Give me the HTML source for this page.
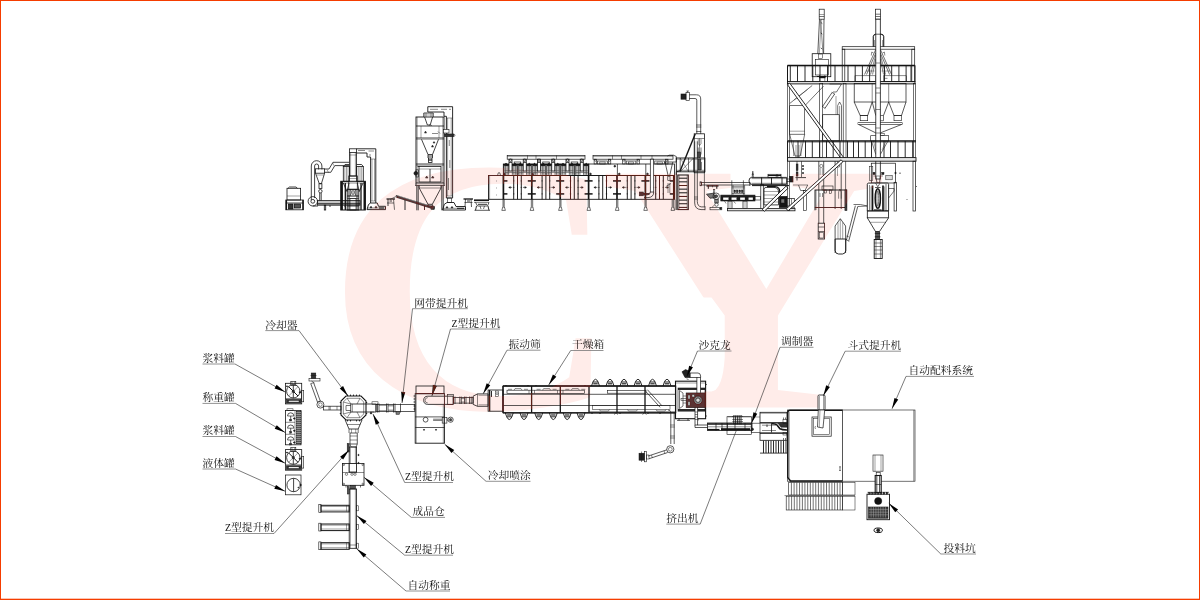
<!DOCTYPE html>
<html lang="zh"><head><meta charset="utf-8"><title>Production line layout</title>
<style>
html,body{margin:0;padding:0;background:#fff;}
body{width:1200px;height:600px;overflow:hidden;position:relative;font-family:"Liberation Serif","Noto Serif CJK SC",serif;}
#frame{position:absolute;left:0;top:0;width:1198px;height:598px;border:1px solid #f53d00;}
svg{position:absolute;left:0;top:0;}
.wm{font-family:"Liberation Serif",serif;font-weight:bold;font-size:357px;}
.lbl text{font-family:"Liberation Serif","Noto Serif CJK SC",serif;font-size:10.75px;fill:#111;font-weight:400;}
</style></head><body>
<svg width="1200" height="600" viewBox="0 0 1200 600">
<defs><clipPath id="ycp"><path d="M0,-300 H116.8 V-210 H140 V-300 H300 V10 H77.7 V-16 H100 Q110,-18 111.7,-50 V-92 L100,-110 H0 Z"/></clipPath></defs>
<g class="wm" fill="#ffece9"><text transform="translate(323.1,409.6) scale(1.17,1.03)" x="0" y="0" stroke="#ffffff" stroke-width="2.5">C</text><text clip-path="url(#ycp)" transform="translate(598.5,407.5) scale(1.13,1)" x="0" y="0">Y</text></g>
<g fill="none" stroke="#141414" stroke-width="0.8" stroke-linecap="butt" stroke-linejoin="miter">
<rect x="287" y="188.3" width="13.6" height="11.7"/>
<polyline points="288,188.3 289.5,187 296,187 297.5,188.3"/>
<rect x="285.8" y="200" width="17.7" height="9.8"/>
<line x1="285.8" y1="203" x2="303.5" y2="203"/>
<rect x="288.5" y="204" width="4.5" height="5" fill="#333"/>
<rect x="294.5" y="204" width="6" height="4" fill="#555"/>
<line x1="286.5" y1="200" x2="286.5" y2="210" stroke-width="1.2"/>
<line x1="302.8" y1="200" x2="302.8" y2="210" stroke-width="1.2"/>
<line x1="287" y1="196" x2="300.6" y2="196" stroke-width="0.4"/>
<line x1="311.3" y1="166" x2="311.3" y2="200"/>
<line x1="314.6" y1="166" x2="314.6" y2="198"/>
<path d="M311.3,166 A5.3,5.3 0 0 1 321.9,166"/>
<path d="M314.6,166 A2,2 0 0 1 318.6,166"/>
<line x1="318.6" y1="166" x2="318.6" y2="169.4"/>
<line x1="321.9" y1="166" x2="321.9" y2="169.4"/>
<circle cx="312.8" cy="201.3" r="4.7"/>
<circle cx="312.8" cy="201.3" r="1.9"/>
<line x1="312.8" y1="206" x2="318" y2="206"/>
<rect x="315.5" y="168.8" width="9.1" height="4.4"/>
<polyline points="315.5,173.2 319.3,183.7 321.4,183.7 324.6,173.2"/>
<line x1="316.3" y1="175" x2="323.8" y2="175" stroke-width="0.4"/>
<rect x="319" y="183.7" width="2.9" height="4.8"/>
<circle cx="320.4" cy="191.2" r="1.7"/>
<line x1="319.7" y1="193" x2="319.7" y2="200.5"/>
<line x1="321.2" y1="193" x2="321.2" y2="200.5"/>
<polyline points="324.6,169 329,169 333,162.3 349.3,162.3"/>
<polyline points="324.6,172.3 330.8,172.3 334.8,165.6 349.3,165.6"/>
<line x1="327" y1="169.6" x2="328.5" y2="172.6" stroke-width="0.4"/>
<line x1="332.5" y1="162.6" x2="334" y2="165.8" stroke-width="0.4"/>
<rect x="317.5" y="200.6" width="42.5" height="4.6"/>
<line x1="317.5" y1="202" x2="360" y2="202" stroke-width="0.5"/>
<line x1="317.5" y1="203.8" x2="360" y2="203.8" stroke-width="1.2"/>
<rect x="324.3" y="205.2" width="1.4" height="4.8"/>
<line x1="330" y1="205.2" x2="330" y2="207"/>
<line x1="345" y1="205.2" x2="345" y2="207"/>
<rect x="349.4" y="148.8" width="7.2" height="27.2"/>
<line x1="349.4" y1="152.5" x2="356.6" y2="152.5"/>
<line x1="350.6" y1="152.5" x2="350.6" y2="176" stroke-width="0.4"/>
<line x1="355.4" y1="152.5" x2="355.4" y2="176" stroke-width="0.4"/>
<line x1="349.4" y1="155" x2="356.6" y2="155" stroke-width="0.4"/>
<rect x="348.8" y="176" width="8.5" height="13.3"/>
<line x1="348.8" y1="178.5" x2="357.3" y2="178.5" stroke-width="0.4"/>
<rect x="343.3" y="166.5" width="6.1" height="14.8"/>
<rect x="356.6" y="166.5" width="6.7" height="14.8"/>
<polyline points="343.3,166.5 345,164.5 349.4,164.5"/>
<polyline points="363.3,166.5 361.6,164.5 356.6,164.5"/>
<line x1="344.8" y1="166.5" x2="344.8" y2="181.3" stroke-width="0.4"/>
<line x1="346.5" y1="166.5" x2="346.5" y2="181.3" stroke-width="0.4"/>
<line x1="348" y1="166.5" x2="348" y2="181.3" stroke-width="0.4"/>
<line x1="358.2" y1="166.5" x2="358.2" y2="181.3" stroke-width="0.4"/>
<line x1="360" y1="166.5" x2="360" y2="181.3" stroke-width="0.4"/>
<line x1="361.7" y1="166.5" x2="361.7" y2="181.3" stroke-width="0.4"/>
<rect x="340.8" y="181.3" width="24.5" height="28.7" stroke-width="1"/>
<line x1="341.8" y1="181.3" x2="341.8" y2="210" stroke-width="2.2"/>
<line x1="345.3" y1="183" x2="345.3" y2="210" stroke-width="1.3"/>
<line x1="361" y1="183" x2="361" y2="210" stroke-width="1.3"/>
<line x1="364.6" y1="181.3" x2="364.6" y2="210" stroke-width="2.2"/>
<line x1="340.8" y1="183" x2="365.3" y2="183" stroke-width="0.5"/>
<polyline points="343.3,183 347,191.5 349,183"/>
<polyline points="357.3,183 359.3,191.5 363,183"/>
<rect x="347.2" y="189.3" width="11.6" height="20.7" stroke-width="0.9"/>
<line x1="349" y1="189.3" x2="349" y2="210" stroke-width="0.9"/>
<line x1="357" y1="189.3" x2="357" y2="210" stroke-width="0.9"/>
<line x1="350.5" y1="189.3" x2="350.5" y2="196" stroke-width="0.5"/>
<line x1="355.5" y1="189.3" x2="355.5" y2="196" stroke-width="0.5"/>
<polyline points="350.5,189.5 353,195 355.5,189.5" stroke-width="0.5"/>
<polyline points="350.5,195 353,190 355.5,195" stroke-width="0.5"/>
<line x1="347.2" y1="196" x2="358.8" y2="196" stroke-width="1"/>
<line x1="347.2" y1="198.5" x2="358.8" y2="198.5" stroke-width="0.6"/>
<line x1="347.2" y1="206" x2="358.8" y2="206" stroke-width="0.8"/>
<rect x="350" y="198.5" width="6" height="11.5" stroke-width="0.6"/>
<polyline points="356.6,148.8 375.8,148.8 375.8,203 370.6,203 370.6,157 367,157 367,153 356.6,153" stroke-width="0.9"/>
<line x1="372" y1="159" x2="372" y2="201" stroke-width="0.4"/>
<line x1="374.5" y1="159" x2="374.5" y2="201" stroke-width="0.4"/>
<line x1="370.6" y1="159" x2="375.8" y2="159" stroke-width="0.4"/>
<line x1="370.6" y1="201" x2="375.8" y2="201" stroke-width="0.4"/>
<line x1="358" y1="150.5" x2="365" y2="150.5" stroke-width="0.5"/>
<line x1="368.5" y1="151" x2="374" y2="151" stroke-width="0.5"/>
<line x1="369" y1="155" x2="371" y2="155" stroke-width="0.5"/>
<polyline points="370.6,203 368.5,204.5 367,209.6 385.5,209.6 385.5,206.3 378.5,206.3 377.3,203 375.8,203" stroke-width="0.9"/>
<line x1="367" y1="208" x2="385.5" y2="208" stroke-width="0.5"/>
<circle cx="371" cy="207.3" r="0.7" fill="#222"/>
<circle cx="376" cy="207.3" r="0.7" fill="#222"/>
<line x1="379" y1="208" x2="384" y2="208" stroke-width="1"/>
<line x1="386.5" y1="199" x2="395" y2="199" stroke-width="1.2"/>
<line x1="388" y1="199" x2="388" y2="206" stroke-width="0.8"/>
<line x1="393.5" y1="199" x2="394.5" y2="209.8" stroke-width="0.6"/>
<line x1="387" y1="203" x2="394" y2="203" stroke-width="0.6"/>
<line x1="389.5" y1="201" x2="392" y2="201" stroke-width="0.8"/>
<line x1="390" y1="199.5" x2="396" y2="196.5" stroke-width="0.6"/>
<line x1="396.8" y1="196.4" x2="434.2" y2="208.3" stroke-width="2.6" stroke="#333"/>
<line x1="397.5" y1="195.6" x2="434.5" y2="207.4" stroke-width="0.5" stroke="#bbb"/>
<line x1="396.2" y1="195" x2="397.4" y2="198"/>
<line x1="405" y1="199.5" x2="405" y2="210" stroke-width="0.9"/>
<line x1="424.5" y1="205.5" x2="424.5" y2="210" stroke-width="0.9"/>
<rect x="431" y="206.5" width="3.5" height="2.8" stroke-width="0.5" fill="#333"/>
<rect x="416" y="117" width="28" height="66" stroke-width="0.9"/>
<line x1="416" y1="126" x2="444" y2="126" stroke-width="0.8"/>
<line x1="416" y1="138" x2="444" y2="138" stroke-width="0.8"/>
<line x1="416" y1="164" x2="444" y2="164" stroke-width="0.8"/>
<line x1="417.2" y1="117" x2="417.2" y2="183" stroke-width="0.4"/>
<line x1="442.8" y1="117" x2="442.8" y2="183" stroke-width="0.4"/>
<line x1="416" y1="139.3" x2="444" y2="139.3" stroke-width="0.4"/>
<line x1="416" y1="165.3" x2="444" y2="165.3" stroke-width="0.4"/>
<polyline points="423.8,117 423.8,113 433.2,113 433.2,117"/>
<polyline points="424.6,117 427.4,125 430.2,125 432.6,117"/>
<line x1="426" y1="113" x2="426" y2="117" stroke-width="0.4"/>
<line x1="431" y1="113" x2="431" y2="117" stroke-width="0.4"/>
<line x1="424" y1="115" x2="433" y2="115" stroke-width="0.4"/>
<line x1="429" y1="125" x2="432" y2="125.5" stroke-width="0.5"/>
<line x1="421" y1="126" x2="421" y2="138" stroke-width="0.4"/>
<line x1="439" y1="126" x2="439" y2="138" stroke-width="0.4"/>
<polygon points="424.5,133 425.5,131 426.5,133" stroke-width="0.5" fill="#333"/>
<line x1="432" y1="133.5" x2="438" y2="133.5" stroke-width="0.5"/>
<line x1="438" y1="131.5" x2="440" y2="133.5" stroke-width="0.5"/>
<polyline points="421.5,139.3 428,154.5 432.5,154.5 438.5,139.3"/>
<line x1="428" y1="154.5" x2="428" y2="158"/>
<line x1="432.5" y1="154.5" x2="432.5" y2="158"/>
<line x1="428" y1="156" x2="432.5" y2="156"/>
<rect x="428.5" y="158" width="3.5" height="4.5"/>
<line x1="428.5" y1="160" x2="432" y2="160" stroke-width="1.2"/>
<polygon points="431.5,147 432.5,145 433.5,147" stroke-width="0.5" fill="#333"/>
<polygon points="433,143 434,141.5 435,143" stroke-width="0.5" fill="#333"/>
<rect x="419" y="166.5" width="22" height="15.5"/>
<line x1="419" y1="169" x2="441" y2="169" stroke-width="0.4"/>
<line x1="430" y1="169" x2="430" y2="182"/>
<line x1="417.5" y1="166.5" x2="419" y2="166.5"/>
<polygon points="425.5,178 426.7,176 428,178" stroke-width="0.5" fill="#333"/>
<polygon points="431.5,178 432.7,176 434,178" stroke-width="0.5" fill="#333"/>
<circle cx="415.8" cy="173.3" r="1.8" fill="#222"/>
<rect x="416" y="169.8" width="2.3" height="7.2" stroke-width="0.6"/>
<line x1="416" y1="183" x2="416" y2="185.3"/>
<line x1="444" y1="183" x2="444" y2="185.3"/>
<line x1="415" y1="185.3" x2="445" y2="185.3"/>
<line x1="416.8" y1="185.3" x2="416.8" y2="210.3"/>
<line x1="418.2" y1="185.3" x2="418.2" y2="210.3"/>
<line x1="441.8" y1="185.3" x2="441.8" y2="210.3"/>
<line x1="443.2" y1="185.3" x2="443.2" y2="210.3"/>
<polyline points="419.2,185.3 419.2,188 428,204.3 432.3,204.3 441,188 441,185.3"/>
<line x1="419.2" y1="188" x2="441" y2="188" stroke-width="0.5"/>
<line x1="428" y1="204.3" x2="428" y2="206"/>
<line x1="432.3" y1="204.3" x2="432.3" y2="206"/>
<line x1="427" y1="206" x2="433.5" y2="206"/>
<polygon points="427.8,106.7 452.6,106.7 452.6,198 446.4,198 446.4,116.3 444,116.3 444,112 427.8,112" stroke-width="0.9"/>
<line x1="447.6" y1="118" x2="447.6" y2="196" stroke-width="0.4"/>
<line x1="451.2" y1="118" x2="451.2" y2="196" stroke-width="0.4"/>
<line x1="446.4" y1="118" x2="452.6" y2="118" stroke-width="0.4"/>
<line x1="446.4" y1="196" x2="452.6" y2="196" stroke-width="0.4"/>
<line x1="430" y1="109.3" x2="438" y2="109.3" stroke-width="0.5"/>
<line x1="441" y1="109.3" x2="447" y2="109.3" stroke-width="0.5"/>
<line x1="449" y1="109.3" x2="451" y2="109.3" stroke-width="0.5"/>
<rect x="443.5" y="129.5" width="5.5" height="3.5" stroke-width="0.6" fill="#fff"/>
<rect x="444.5" y="134" width="9" height="2.6" stroke-width="0.6" fill="#333"/>
<circle cx="453.8" cy="135.3" r="1.1" stroke-width="0.6"/>
<line x1="449.3" y1="140" x2="449.3" y2="146" stroke-width="0.5"/>
<line x1="449.8" y1="160" x2="449.8" y2="168" stroke-width="0.5"/>
<line x1="448.5" y1="178" x2="448.5" y2="190" stroke-width="0.5"/>
<rect x="447.3" y="198" width="4.2" height="4.5" stroke-width="0.6"/>
<polygon points="447,202.5 444.3,204.3 442.6,210 465.5,210 465.5,206.5 456,206.5 454,202.5" stroke-width="0.9"/>
<line x1="442.6" y1="208.3" x2="465.5" y2="208.3" stroke-width="0.5"/>
<circle cx="447" cy="207.4" r="0.7" fill="#222"/>
<circle cx="452" cy="207.4" r="0.7" fill="#222"/>
<line x1="457" y1="208.3" x2="464" y2="208.3" stroke-width="1"/>
<line x1="463.5" y1="199" x2="473" y2="199" stroke-width="1.3"/>
<line x1="465.5" y1="199" x2="465" y2="206.5" stroke-width="0.7"/>
<line x1="471" y1="199" x2="471.5" y2="207" stroke-width="0.7"/>
<line x1="464.5" y1="202.5" x2="472.5" y2="202.5" stroke-width="0.6"/>
<line x1="467" y1="201" x2="470" y2="201" stroke-width="0.9"/>
<line x1="474" y1="200.2" x2="489" y2="200.2" stroke-width="1.6"/>
<line x1="474" y1="202.3" x2="489" y2="202.3" stroke-width="0.6"/>
<polyline points="475.5,202.3 477.5,206 487.5,206 489,202.3" stroke-width="0.7"/>
<line x1="478" y1="204.3" x2="487" y2="204.3" stroke-width="0.9"/>
<line x1="476.5" y1="206" x2="475.5" y2="210.3" stroke-width="0.9"/>
<line x1="488" y1="206" x2="489" y2="210.3" stroke-width="0.9"/>
<line x1="480" y1="206" x2="481" y2="209" stroke-width="0.6"/>
<line x1="484.5" y1="206" x2="483.5" y2="209" stroke-width="0.6"/>
<line x1="474.5" y1="210.3" x2="490" y2="210.3" stroke-width="0.7"/>
<rect x="488.5" y="175.5" width="186" height="23.8" stroke-width="0.9"/>
<line x1="489.6" y1="175.5" x2="489.6" y2="199.3" stroke-width="0.4"/>
<line x1="496.5" y1="180.6" x2="496.5" y2="181.4" stroke-width="0.5"/>
<line x1="496.5" y1="187.6" x2="496.5" y2="188.4" stroke-width="0.5"/>
<line x1="496.5" y1="194.6" x2="496.5" y2="195.4" stroke-width="0.5"/>
<polyline points="497.5,175.5 498.3,172.8 499.8,172.8 500.6,175.5" stroke-width="0.6"/>
<line x1="503.4" y1="175.5" x2="503.4" y2="199.3" stroke-width="1.7"/>
<line x1="502.9" y1="199.3" x2="502.9" y2="207.5" stroke-width="0.5"/>
<line x1="504.3" y1="199.3" x2="504.3" y2="207.5" stroke-width="0.5"/>
<line x1="503.6" y1="199.3" x2="503.6" y2="207.5" stroke-width="0.4"/>
<polyline points="502.8,207 501.8,210.4 505.4,210.4 504.4,207" stroke-width="0.6"/>
<line x1="503.4" y1="180.9" x2="507.4" y2="180.9" stroke-width="1.5"/>
<line x1="503.4" y1="193.9" x2="507.4" y2="193.9" stroke-width="1.5"/>
<line x1="531.8" y1="175.5" x2="531.8" y2="199.3" stroke-width="1.7"/>
<line x1="531.3" y1="199.3" x2="531.3" y2="207.5" stroke-width="0.5"/>
<line x1="532.7" y1="199.3" x2="532.7" y2="207.5" stroke-width="0.5"/>
<line x1="532" y1="199.3" x2="532" y2="207.5" stroke-width="0.4"/>
<polyline points="531.2,207 530.2,210.4 533.8,210.4 532.8,207" stroke-width="0.6"/>
<line x1="527.8" y1="180.9" x2="535.8" y2="180.9" stroke-width="1.5"/>
<line x1="527.8" y1="193.9" x2="535.8" y2="193.9" stroke-width="1.5"/>
<line x1="560.2" y1="175.5" x2="560.2" y2="199.3" stroke-width="1.7"/>
<line x1="559.7" y1="199.3" x2="559.7" y2="207.5" stroke-width="0.5"/>
<line x1="561.1" y1="199.3" x2="561.1" y2="207.5" stroke-width="0.5"/>
<line x1="560.4" y1="199.3" x2="560.4" y2="207.5" stroke-width="0.4"/>
<polyline points="559.6,207 558.6,210.4 562.2,210.4 561.2,207" stroke-width="0.6"/>
<line x1="556.2" y1="180.9" x2="564.2" y2="180.9" stroke-width="1.5"/>
<line x1="556.2" y1="193.9" x2="564.2" y2="193.9" stroke-width="1.5"/>
<line x1="588.6" y1="175.5" x2="588.6" y2="199.3" stroke-width="1.7"/>
<line x1="588.1" y1="199.3" x2="588.1" y2="207.5" stroke-width="0.5"/>
<line x1="589.5" y1="199.3" x2="589.5" y2="207.5" stroke-width="0.5"/>
<line x1="588.8" y1="199.3" x2="588.8" y2="207.5" stroke-width="0.4"/>
<polyline points="588,207 587,210.4 590.6,210.4 589.6,207" stroke-width="0.6"/>
<line x1="584.6" y1="180.9" x2="592.6" y2="180.9" stroke-width="1.5"/>
<line x1="584.6" y1="193.9" x2="592.6" y2="193.9" stroke-width="1.5"/>
<line x1="617" y1="175.5" x2="617" y2="199.3" stroke-width="1.7"/>
<line x1="616.5" y1="199.3" x2="616.5" y2="207.5" stroke-width="0.5"/>
<line x1="617.9" y1="199.3" x2="617.9" y2="207.5" stroke-width="0.5"/>
<line x1="617.2" y1="199.3" x2="617.2" y2="207.5" stroke-width="0.4"/>
<polyline points="616.4,207 615.4,210.4 619,210.4 618,207" stroke-width="0.6"/>
<line x1="613" y1="180.9" x2="621" y2="180.9" stroke-width="1.5"/>
<line x1="613" y1="193.9" x2="621" y2="193.9" stroke-width="1.5"/>
<line x1="645.4" y1="175.5" x2="645.4" y2="199.3" stroke-width="1.7"/>
<line x1="644.9" y1="199.3" x2="644.9" y2="207.5" stroke-width="0.5"/>
<line x1="646.3" y1="199.3" x2="646.3" y2="207.5" stroke-width="0.5"/>
<line x1="645.6" y1="199.3" x2="645.6" y2="207.5" stroke-width="0.4"/>
<polyline points="644.8,207 643.8,210.4 647.4,210.4 646.4,207" stroke-width="0.6"/>
<line x1="641.4" y1="180.9" x2="649.4" y2="180.9" stroke-width="1.5"/>
<line x1="641.4" y1="193.9" x2="649.4" y2="193.9" stroke-width="1.5"/>
<line x1="673.8" y1="175.5" x2="673.8" y2="199.3" stroke-width="1.7"/>
<line x1="672.1" y1="199.3" x2="672.1" y2="207.5" stroke-width="0.5"/>
<line x1="673.5" y1="199.3" x2="673.5" y2="207.5" stroke-width="0.5"/>
<line x1="672.8" y1="199.3" x2="672.8" y2="207.5" stroke-width="0.4"/>
<polyline points="672,207 671,210.4 674.6,210.4 673.6,207" stroke-width="0.6"/>
<line x1="669.8" y1="180.9" x2="673.8" y2="180.9" stroke-width="1.5"/>
<line x1="669.8" y1="193.9" x2="673.8" y2="193.9" stroke-width="1.5"/>
<line x1="513.7" y1="175.5" x2="513.7" y2="199.3" stroke-width="0.95"/>
<line x1="517.5" y1="175.5" x2="517.5" y2="199.3" stroke-width="0.95"/>
<line x1="521.3" y1="175.5" x2="521.3" y2="199.3" stroke-width="0.95"/>
<line x1="513" y1="180.9" x2="514.4" y2="180.9" stroke-width="0.6"/>
<line x1="513" y1="187.4" x2="514.4" y2="187.4" stroke-width="0.6"/>
<line x1="513" y1="193.9" x2="514.4" y2="193.9" stroke-width="0.6"/>
<line x1="520.6" y1="180.9" x2="522" y2="180.9" stroke-width="0.6"/>
<line x1="520.6" y1="187.4" x2="522" y2="187.4" stroke-width="0.6"/>
<line x1="520.6" y1="193.9" x2="522" y2="193.9" stroke-width="0.6"/>
<line x1="508.9" y1="187.4" x2="512.2" y2="187.4" stroke-width="0.6"/>
<polygon points="508.6,187.4 510.4,186.4 510.4,188.4" stroke-width="0.3" fill="#222"/>
<line x1="522.9" y1="187.4" x2="526.2" y2="187.4" stroke-width="0.6"/>
<polygon points="526.6,187.4 524.8,186.4 524.8,188.4" stroke-width="0.3" fill="#222"/>
<line x1="542.1" y1="175.5" x2="542.1" y2="199.3" stroke-width="0.95"/>
<line x1="545.9" y1="175.5" x2="545.9" y2="199.3" stroke-width="0.95"/>
<line x1="549.7" y1="175.5" x2="549.7" y2="199.3" stroke-width="0.95"/>
<line x1="541.4" y1="180.9" x2="542.8" y2="180.9" stroke-width="0.6"/>
<line x1="541.4" y1="187.4" x2="542.8" y2="187.4" stroke-width="0.6"/>
<line x1="541.4" y1="193.9" x2="542.8" y2="193.9" stroke-width="0.6"/>
<line x1="549" y1="180.9" x2="550.4" y2="180.9" stroke-width="0.6"/>
<line x1="549" y1="187.4" x2="550.4" y2="187.4" stroke-width="0.6"/>
<line x1="549" y1="193.9" x2="550.4" y2="193.9" stroke-width="0.6"/>
<line x1="537.3" y1="187.4" x2="540.6" y2="187.4" stroke-width="0.6"/>
<polygon points="537,187.4 538.8,186.4 538.8,188.4" stroke-width="0.3" fill="#222"/>
<line x1="551.3" y1="187.4" x2="554.6" y2="187.4" stroke-width="0.6"/>
<polygon points="555,187.4 553.2,186.4 553.2,188.4" stroke-width="0.3" fill="#222"/>
<line x1="570.5" y1="175.5" x2="570.5" y2="199.3" stroke-width="0.95"/>
<line x1="574.3" y1="175.5" x2="574.3" y2="199.3" stroke-width="0.95"/>
<line x1="578.1" y1="175.5" x2="578.1" y2="199.3" stroke-width="0.95"/>
<line x1="569.8" y1="180.9" x2="571.2" y2="180.9" stroke-width="0.6"/>
<line x1="569.8" y1="187.4" x2="571.2" y2="187.4" stroke-width="0.6"/>
<line x1="569.8" y1="193.9" x2="571.2" y2="193.9" stroke-width="0.6"/>
<line x1="577.4" y1="180.9" x2="578.8" y2="180.9" stroke-width="0.6"/>
<line x1="577.4" y1="187.4" x2="578.8" y2="187.4" stroke-width="0.6"/>
<line x1="577.4" y1="193.9" x2="578.8" y2="193.9" stroke-width="0.6"/>
<line x1="565.7" y1="187.4" x2="569" y2="187.4" stroke-width="0.6"/>
<polygon points="565.4,187.4 567.2,186.4 567.2,188.4" stroke-width="0.3" fill="#222"/>
<line x1="579.7" y1="187.4" x2="583" y2="187.4" stroke-width="0.6"/>
<polygon points="583.4,187.4 581.6,186.4 581.6,188.4" stroke-width="0.3" fill="#222"/>
<line x1="598.9" y1="175.5" x2="598.9" y2="199.3" stroke-width="0.95"/>
<line x1="602.7" y1="175.5" x2="602.7" y2="199.3" stroke-width="0.95"/>
<line x1="606.5" y1="175.5" x2="606.5" y2="199.3" stroke-width="0.95"/>
<line x1="598.2" y1="180.9" x2="599.6" y2="180.9" stroke-width="0.6"/>
<line x1="598.2" y1="187.4" x2="599.6" y2="187.4" stroke-width="0.6"/>
<line x1="598.2" y1="193.9" x2="599.6" y2="193.9" stroke-width="0.6"/>
<line x1="605.8" y1="180.9" x2="607.2" y2="180.9" stroke-width="0.6"/>
<line x1="605.8" y1="187.4" x2="607.2" y2="187.4" stroke-width="0.6"/>
<line x1="605.8" y1="193.9" x2="607.2" y2="193.9" stroke-width="0.6"/>
<line x1="594.1" y1="187.4" x2="597.4" y2="187.4" stroke-width="0.6"/>
<polygon points="593.8,187.4 595.6,186.4 595.6,188.4" stroke-width="0.3" fill="#222"/>
<line x1="608.1" y1="187.4" x2="611.4" y2="187.4" stroke-width="0.6"/>
<polygon points="611.8,187.4 610,186.4 610,188.4" stroke-width="0.3" fill="#222"/>
<line x1="627.3" y1="175.5" x2="627.3" y2="199.3" stroke-width="0.95"/>
<line x1="631.1" y1="175.5" x2="631.1" y2="199.3" stroke-width="0.95"/>
<line x1="634.9" y1="175.5" x2="634.9" y2="199.3" stroke-width="0.95"/>
<line x1="626.6" y1="180.9" x2="628" y2="180.9" stroke-width="0.6"/>
<line x1="626.6" y1="187.4" x2="628" y2="187.4" stroke-width="0.6"/>
<line x1="626.6" y1="193.9" x2="628" y2="193.9" stroke-width="0.6"/>
<line x1="634.2" y1="180.9" x2="635.6" y2="180.9" stroke-width="0.6"/>
<line x1="634.2" y1="187.4" x2="635.6" y2="187.4" stroke-width="0.6"/>
<line x1="634.2" y1="193.9" x2="635.6" y2="193.9" stroke-width="0.6"/>
<line x1="622.5" y1="187.4" x2="625.8" y2="187.4" stroke-width="0.6"/>
<polygon points="622.2,187.4 624,186.4 624,188.4" stroke-width="0.3" fill="#222"/>
<line x1="636.5" y1="187.4" x2="639.8" y2="187.4" stroke-width="0.6"/>
<polygon points="640.2,187.4 638.4,186.4 638.4,188.4" stroke-width="0.3" fill="#222"/>
<line x1="655.7" y1="175.5" x2="655.7" y2="199.3" stroke-width="0.95"/>
<line x1="659.5" y1="175.5" x2="659.5" y2="199.3" stroke-width="0.95"/>
<line x1="663.3" y1="175.5" x2="663.3" y2="199.3" stroke-width="0.95"/>
<line x1="655" y1="180.9" x2="656.4" y2="180.9" stroke-width="0.6"/>
<line x1="655" y1="187.4" x2="656.4" y2="187.4" stroke-width="0.6"/>
<line x1="655" y1="193.9" x2="656.4" y2="193.9" stroke-width="0.6"/>
<line x1="662.6" y1="180.9" x2="664" y2="180.9" stroke-width="0.6"/>
<line x1="662.6" y1="187.4" x2="664" y2="187.4" stroke-width="0.6"/>
<line x1="662.6" y1="193.9" x2="664" y2="193.9" stroke-width="0.6"/>
<line x1="650.9" y1="187.4" x2="654.2" y2="187.4" stroke-width="0.6"/>
<polygon points="650.6,187.4 652.4,186.4 652.4,188.4" stroke-width="0.3" fill="#222"/>
<line x1="664.9" y1="187.4" x2="668.2" y2="187.4" stroke-width="0.6"/>
<polygon points="668.6,187.4 666.8,186.4 666.8,188.4" stroke-width="0.3" fill="#222"/>
<rect x="503.4" y="164.2" width="85.3" height="11.3" stroke-width="1"/>
<line x1="503.4" y1="164.4" x2="588.7" y2="164.4" stroke-width="1.5"/>
<line x1="504.15" y1="165.2" x2="504.15" y2="174.8" stroke-width="0.75" stroke="#333"/>
<line x1="505.65" y1="165.2" x2="505.65" y2="174.8" stroke-width="0.75" stroke="#333"/>
<line x1="507.15" y1="165.2" x2="507.15" y2="174.8" stroke-width="0.75" stroke="#333"/>
<line x1="508.65" y1="165.2" x2="508.65" y2="174.8" stroke-width="0.75" stroke="#333"/>
<line x1="512.35" y1="165.2" x2="512.35" y2="174.8" stroke-width="0.75" stroke="#333"/>
<line x1="513.85" y1="165.2" x2="513.85" y2="174.8" stroke-width="0.75" stroke="#333"/>
<line x1="515.35" y1="165.2" x2="515.35" y2="174.8" stroke-width="0.75" stroke="#333"/>
<line x1="516.85" y1="165.2" x2="516.85" y2="174.8" stroke-width="0.75" stroke="#333"/>
<line x1="504.2" y1="165.6" x2="508.9" y2="165.6" stroke-width="1"/>
<line x1="512.1" y1="165.6" x2="516.8" y2="165.6" stroke-width="1"/>
<line x1="504.5" y1="172.4" x2="516.5" y2="172.4" stroke-width="0.7" stroke="#555"/>
<line x1="504.5" y1="170.5" x2="516.5" y2="170.5" stroke-width="0.5" stroke="#555"/>
<rect x="509" y="159.2" width="3" height="11.8" stroke-width="0.8" fill="#fff"/>
<circle cx="510.5" cy="160.2" r="1.1" stroke-width="0.7" fill="#fff"/>
<line x1="509" y1="162.3" x2="512" y2="162.3" stroke-width="0.9"/>
<line x1="517.62" y1="164.2" x2="517.62" y2="175.5" stroke-width="0.8"/>
<rect x="514.2" y="162" width="6.6" height="2.2" stroke-width="0.7"/>
<circle cx="506" cy="163.8" r="0.5" fill="#222"/>
<circle cx="515" cy="163.8" r="0.5" fill="#222"/>
<line x1="518.4" y1="165.2" x2="518.4" y2="174.8" stroke-width="0.75" stroke="#333"/>
<line x1="519.9" y1="165.2" x2="519.9" y2="174.8" stroke-width="0.75" stroke="#333"/>
<line x1="521.4" y1="165.2" x2="521.4" y2="174.8" stroke-width="0.75" stroke="#333"/>
<line x1="522.9" y1="165.2" x2="522.9" y2="174.8" stroke-width="0.75" stroke="#333"/>
<line x1="526.6" y1="165.2" x2="526.6" y2="174.8" stroke-width="0.75" stroke="#333"/>
<line x1="528.1" y1="165.2" x2="528.1" y2="174.8" stroke-width="0.75" stroke="#333"/>
<line x1="529.6" y1="165.2" x2="529.6" y2="174.8" stroke-width="0.75" stroke="#333"/>
<line x1="531.1" y1="165.2" x2="531.1" y2="174.8" stroke-width="0.75" stroke="#333"/>
<line x1="518.45" y1="165.6" x2="523.15" y2="165.6" stroke-width="1"/>
<line x1="526.35" y1="165.6" x2="531.05" y2="165.6" stroke-width="1"/>
<line x1="518.75" y1="172.4" x2="530.75" y2="172.4" stroke-width="0.7" stroke="#555"/>
<line x1="518.75" y1="170.5" x2="530.75" y2="170.5" stroke-width="0.5" stroke="#555"/>
<rect x="523.25" y="159.2" width="3" height="11.8" stroke-width="0.8" fill="#fff"/>
<circle cx="524.75" cy="160.2" r="1.1" stroke-width="0.7" fill="#fff"/>
<line x1="523.25" y1="162.3" x2="526.25" y2="162.3" stroke-width="0.9"/>
<line x1="531.87" y1="164.2" x2="531.87" y2="175.5" stroke-width="0.8"/>
<circle cx="520.25" cy="163.8" r="0.5" fill="#222"/>
<circle cx="529.25" cy="163.8" r="0.5" fill="#222"/>
<line x1="532.65" y1="165.2" x2="532.65" y2="174.8" stroke-width="0.75" stroke="#333"/>
<line x1="534.15" y1="165.2" x2="534.15" y2="174.8" stroke-width="0.75" stroke="#333"/>
<line x1="535.65" y1="165.2" x2="535.65" y2="174.8" stroke-width="0.75" stroke="#333"/>
<line x1="537.15" y1="165.2" x2="537.15" y2="174.8" stroke-width="0.75" stroke="#333"/>
<line x1="540.85" y1="165.2" x2="540.85" y2="174.8" stroke-width="0.75" stroke="#333"/>
<line x1="542.35" y1="165.2" x2="542.35" y2="174.8" stroke-width="0.75" stroke="#333"/>
<line x1="543.85" y1="165.2" x2="543.85" y2="174.8" stroke-width="0.75" stroke="#333"/>
<line x1="545.35" y1="165.2" x2="545.35" y2="174.8" stroke-width="0.75" stroke="#333"/>
<line x1="532.7" y1="165.6" x2="537.4" y2="165.6" stroke-width="1"/>
<line x1="540.6" y1="165.6" x2="545.3" y2="165.6" stroke-width="1"/>
<line x1="533" y1="172.4" x2="545" y2="172.4" stroke-width="0.7" stroke="#555"/>
<line x1="533" y1="170.5" x2="545" y2="170.5" stroke-width="0.5" stroke="#555"/>
<rect x="537.5" y="159.2" width="3" height="11.8" stroke-width="0.8" fill="#fff"/>
<circle cx="539" cy="160.2" r="1.1" stroke-width="0.7" fill="#fff"/>
<line x1="537.5" y1="162.3" x2="540.5" y2="162.3" stroke-width="0.9"/>
<line x1="546.12" y1="164.2" x2="546.12" y2="175.5" stroke-width="0.8"/>
<rect x="542.7" y="162" width="6.6" height="2.2" stroke-width="0.7"/>
<circle cx="534.5" cy="163.8" r="0.5" fill="#222"/>
<circle cx="543.5" cy="163.8" r="0.5" fill="#222"/>
<line x1="546.9" y1="165.2" x2="546.9" y2="174.8" stroke-width="0.75" stroke="#333"/>
<line x1="548.4" y1="165.2" x2="548.4" y2="174.8" stroke-width="0.75" stroke="#333"/>
<line x1="549.9" y1="165.2" x2="549.9" y2="174.8" stroke-width="0.75" stroke="#333"/>
<line x1="551.4" y1="165.2" x2="551.4" y2="174.8" stroke-width="0.75" stroke="#333"/>
<line x1="555.1" y1="165.2" x2="555.1" y2="174.8" stroke-width="0.75" stroke="#333"/>
<line x1="556.6" y1="165.2" x2="556.6" y2="174.8" stroke-width="0.75" stroke="#333"/>
<line x1="558.1" y1="165.2" x2="558.1" y2="174.8" stroke-width="0.75" stroke="#333"/>
<line x1="559.6" y1="165.2" x2="559.6" y2="174.8" stroke-width="0.75" stroke="#333"/>
<line x1="546.95" y1="165.6" x2="551.65" y2="165.6" stroke-width="1"/>
<line x1="554.85" y1="165.6" x2="559.55" y2="165.6" stroke-width="1"/>
<line x1="547.25" y1="172.4" x2="559.25" y2="172.4" stroke-width="0.7" stroke="#555"/>
<line x1="547.25" y1="170.5" x2="559.25" y2="170.5" stroke-width="0.5" stroke="#555"/>
<rect x="551.75" y="159.2" width="3" height="11.8" stroke-width="0.8" fill="#fff"/>
<circle cx="553.25" cy="160.2" r="1.1" stroke-width="0.7" fill="#fff"/>
<line x1="551.75" y1="162.3" x2="554.75" y2="162.3" stroke-width="0.9"/>
<line x1="560.37" y1="164.2" x2="560.37" y2="175.5" stroke-width="0.8"/>
<circle cx="548.75" cy="163.8" r="0.5" fill="#222"/>
<circle cx="557.75" cy="163.8" r="0.5" fill="#222"/>
<line x1="561.15" y1="165.2" x2="561.15" y2="174.8" stroke-width="0.75" stroke="#333"/>
<line x1="562.65" y1="165.2" x2="562.65" y2="174.8" stroke-width="0.75" stroke="#333"/>
<line x1="564.15" y1="165.2" x2="564.15" y2="174.8" stroke-width="0.75" stroke="#333"/>
<line x1="565.65" y1="165.2" x2="565.65" y2="174.8" stroke-width="0.75" stroke="#333"/>
<line x1="569.35" y1="165.2" x2="569.35" y2="174.8" stroke-width="0.75" stroke="#333"/>
<line x1="570.85" y1="165.2" x2="570.85" y2="174.8" stroke-width="0.75" stroke="#333"/>
<line x1="572.35" y1="165.2" x2="572.35" y2="174.8" stroke-width="0.75" stroke="#333"/>
<line x1="573.85" y1="165.2" x2="573.85" y2="174.8" stroke-width="0.75" stroke="#333"/>
<line x1="561.2" y1="165.6" x2="565.9" y2="165.6" stroke-width="1"/>
<line x1="569.1" y1="165.6" x2="573.8" y2="165.6" stroke-width="1"/>
<line x1="561.5" y1="172.4" x2="573.5" y2="172.4" stroke-width="0.7" stroke="#555"/>
<line x1="561.5" y1="170.5" x2="573.5" y2="170.5" stroke-width="0.5" stroke="#555"/>
<rect x="566" y="159.2" width="3" height="11.8" stroke-width="0.8" fill="#fff"/>
<circle cx="567.5" cy="160.2" r="1.1" stroke-width="0.7" fill="#fff"/>
<line x1="566" y1="162.3" x2="569" y2="162.3" stroke-width="0.9"/>
<line x1="574.62" y1="164.2" x2="574.62" y2="175.5" stroke-width="0.8"/>
<rect x="571.2" y="162" width="6.6" height="2.2" stroke-width="0.7"/>
<circle cx="563" cy="163.8" r="0.5" fill="#222"/>
<circle cx="572" cy="163.8" r="0.5" fill="#222"/>
<line x1="575.4" y1="165.2" x2="575.4" y2="174.8" stroke-width="0.75" stroke="#333"/>
<line x1="576.9" y1="165.2" x2="576.9" y2="174.8" stroke-width="0.75" stroke="#333"/>
<line x1="578.4" y1="165.2" x2="578.4" y2="174.8" stroke-width="0.75" stroke="#333"/>
<line x1="579.9" y1="165.2" x2="579.9" y2="174.8" stroke-width="0.75" stroke="#333"/>
<line x1="583.6" y1="165.2" x2="583.6" y2="174.8" stroke-width="0.75" stroke="#333"/>
<line x1="585.1" y1="165.2" x2="585.1" y2="174.8" stroke-width="0.75" stroke="#333"/>
<line x1="586.6" y1="165.2" x2="586.6" y2="174.8" stroke-width="0.75" stroke="#333"/>
<line x1="588.1" y1="165.2" x2="588.1" y2="174.8" stroke-width="0.75" stroke="#333"/>
<line x1="575.45" y1="165.6" x2="580.15" y2="165.6" stroke-width="1"/>
<line x1="583.35" y1="165.6" x2="588.05" y2="165.6" stroke-width="1"/>
<line x1="575.75" y1="172.4" x2="587.75" y2="172.4" stroke-width="0.7" stroke="#555"/>
<line x1="575.75" y1="170.5" x2="587.75" y2="170.5" stroke-width="0.5" stroke="#555"/>
<rect x="580.25" y="159.2" width="3" height="11.8" stroke-width="0.8" fill="#fff"/>
<circle cx="581.75" cy="160.2" r="1.1" stroke-width="0.7" fill="#fff"/>
<line x1="580.25" y1="162.3" x2="583.25" y2="162.3" stroke-width="0.9"/>
<circle cx="577.25" cy="163.8" r="0.5" fill="#222"/>
<circle cx="586.25" cy="163.8" r="0.5" fill="#222"/>
<rect x="507.2" y="155.4" width="77.8" height="3.8" stroke-width="0.7"/>
<line x1="507.2" y1="156.6" x2="585" y2="156.6" stroke-width="0.4"/>
<line x1="527.5" y1="155.4" x2="527.5" y2="159.2" stroke-width="0.5"/>
<line x1="536" y1="155.4" x2="536" y2="159.2" stroke-width="0.5"/>
<line x1="556.5" y1="155.4" x2="556.5" y2="159.2" stroke-width="0.5"/>
<rect x="588.7" y="164" width="85.8" height="11.5" stroke-width="0.8"/>
<line x1="617.4" y1="164" x2="617.4" y2="175.5" stroke-width="0.7"/>
<line x1="645.8" y1="164" x2="645.8" y2="175.5" stroke-width="0.7"/>
<rect x="593" y="155.4" width="80" height="3.8" stroke-width="0.7"/>
<line x1="593" y1="156.6" x2="673" y2="156.6" stroke-width="0.4"/>
<line x1="612.5" y1="155.4" x2="612.5" y2="159.2" stroke-width="0.5"/>
<line x1="621.5" y1="155.4" x2="621.5" y2="159.2" stroke-width="0.5"/>
<line x1="641" y1="155.4" x2="641" y2="159.2" stroke-width="0.5"/>
<line x1="652" y1="155.4" x2="652" y2="159.2" stroke-width="0.5"/>
<rect x="594.1" y="159.2" width="2.4" height="4.8" stroke-width="0.6"/>
<circle cx="595.3" cy="160.4" r="0.9" stroke-width="0.5"/>
<rect x="597.6" y="161" width="9.7" height="3" stroke-width="0.6"/>
<rect x="599.8" y="162" width="5.3" height="2" stroke-width="0.5"/>
<rect x="608.4" y="159.2" width="2.4" height="4.8" stroke-width="0.6"/>
<circle cx="609.6" cy="160.4" r="0.9" stroke-width="0.5"/>
<rect x="622.7" y="159.2" width="2.4" height="4.8" stroke-width="0.6"/>
<circle cx="623.9" cy="160.4" r="0.9" stroke-width="0.5"/>
<rect x="626.2" y="161" width="9.7" height="3" stroke-width="0.6"/>
<rect x="628.4" y="162" width="5.3" height="2" stroke-width="0.5"/>
<rect x="637" y="159.2" width="2.4" height="4.8" stroke-width="0.6"/>
<circle cx="638.2" cy="160.4" r="0.9" stroke-width="0.5"/>
<rect x="651.3" y="159.2" width="2.4" height="4.8" stroke-width="0.6"/>
<circle cx="652.5" cy="160.4" r="0.9" stroke-width="0.5"/>
<rect x="654.8" y="161" width="9.7" height="3" stroke-width="0.6"/>
<rect x="657" y="162" width="5.3" height="2" stroke-width="0.5"/>
<rect x="665.6" y="159.2" width="2.4" height="4.8" stroke-width="0.6"/>
<circle cx="666.8" cy="160.4" r="0.9" stroke-width="0.5"/>
<circle cx="590.5" cy="174" r="0.8" fill="#222"/>
<circle cx="614.8" cy="166.2" r="0.8" fill="#222"/>
<circle cx="619.3" cy="174" r="0.8" fill="#222"/>
<circle cx="647.5" cy="174" r="0.8" fill="#222"/>
<circle cx="504.5" cy="174.2" r="0.7" fill="#222"/>
<circle cx="532.8" cy="174.2" r="0.7" fill="#222"/>
<rect x="639.3" y="192" width="4" height="3.8" stroke-width="0.5" fill="#333"/>
<rect x="650.3" y="159.2" width="3.4" height="32.8" stroke-width="0.7" fill="#fff"/>
<path d="M650.3,192 Q650.3,194.6 647.3,194.8 L644,194.8" stroke-width="0.7"/>
<path d="M653.7,192 Q653.7,197.4 648,197.6 L644,197.6" stroke-width="0.7"/>
<polyline points="667.5,156 669,155.2 673.5,155.2 676.3,156.5 676.3,162" stroke-width="0.7"/>
<line x1="664.5" y1="162" x2="676.3" y2="162" stroke-width="0.7"/>
<polyline points="665,162 668.2,176 669.6,176 672.8,162" stroke-width="0.7"/>
<line x1="666" y1="164" x2="672" y2="164" stroke-width="0.4"/>
<rect x="667.8" y="176" width="2.2" height="4.5" stroke-width="0.6"/>
<line x1="668" y1="183" x2="668" y2="193" stroke-width="0.5"/>
<line x1="669.8" y1="183" x2="669.8" y2="193" stroke-width="0.5"/>
<line x1="666.5" y1="186" x2="671" y2="183.5" stroke-width="0.6"/>
<rect x="677.8" y="175" width="10.5" height="34.6" stroke-width="1"/>
<line x1="679" y1="175" x2="679" y2="209.6" stroke-width="0.5"/>
<line x1="687.2" y1="175" x2="687.2" y2="209.6" stroke-width="0.5"/>
<line x1="679" y1="178.2" x2="687.2" y2="178.2" stroke-width="1"/>
<line x1="679" y1="181.85" x2="687.2" y2="181.85" stroke-width="1"/>
<line x1="679" y1="185.5" x2="687.2" y2="185.5" stroke-width="1"/>
<line x1="679" y1="189.15" x2="687.2" y2="189.15" stroke-width="1"/>
<line x1="679" y1="192.8" x2="687.2" y2="192.8" stroke-width="1"/>
<line x1="679" y1="196.45" x2="687.2" y2="196.45" stroke-width="1"/>
<line x1="679" y1="200.1" x2="687.2" y2="200.1" stroke-width="1"/>
<line x1="679" y1="203.75" x2="687.2" y2="203.75" stroke-width="1"/>
<line x1="679" y1="207.4" x2="687.2" y2="207.4" stroke-width="1"/>
<line x1="676.3" y1="172.3" x2="676.3" y2="210" stroke-width="0.8"/>
<line x1="675" y1="199.5" x2="675" y2="210" stroke-width="0.5"/>
<rect x="676.3" y="158" width="28.6" height="13.8" stroke-width="0.9"/>
<line x1="676.3" y1="159.3" x2="704.9" y2="159.3" stroke-width="0.4"/>
<line x1="676.3" y1="170.3" x2="704.9" y2="170.3" stroke-width="0.5"/>
<line x1="680.2" y1="158" x2="680.2" y2="171.8" stroke-width="0.6"/>
<line x1="688.5" y1="158" x2="688.5" y2="171.8" stroke-width="0.6"/>
<line x1="693.5" y1="158" x2="693.5" y2="171.8" stroke-width="0.6"/>
<line x1="680.2" y1="171.8" x2="693.5" y2="158" stroke-width="0.5"/>
<line x1="680.2" y1="158" x2="688.5" y2="171.8" stroke-width="0.4"/>
<line x1="676.3" y1="171.8" x2="676.3" y2="175"/>
<line x1="704.4" y1="171.8" x2="704.4" y2="206.5" stroke-width="0.6"/>
<line x1="680.2" y1="170.7" x2="695.2" y2="134" stroke-width="1.4"/>
<line x1="677" y1="171.7" x2="680.2" y2="170.7" stroke-width="0.8"/>
<rect x="694.2" y="133.8" width="10.2" height="39" stroke-width="0.8"/>
<line x1="694.2" y1="138.5" x2="704.4" y2="138.5" stroke-width="0.5"/>
<line x1="699.5" y1="138.5" x2="699.5" y2="158" stroke-width="0.5"/>
<polyline points="698.2,139 698.2,143.5 699.6,145.5 701,143.5 701,139" stroke-width="0.5"/>
<polyline points="698.2,147.5 698.2,154 699.6,156.5 701,154 701,147.5" stroke-width="0.6"/>
<rect x="697.6" y="152" width="3" height="5.5" stroke-width="0.5" fill="#444"/>
<rect x="698" y="159" width="2.8" height="11" stroke-width="0.6" fill="#555"/>
<line x1="701.5" y1="162" x2="701.5" y2="170" stroke-width="0.5"/>
<line x1="696.8" y1="100.2" x2="696.8" y2="133.8" stroke-width="0.7"/>
<line x1="700.7" y1="99" x2="700.7" y2="133.8" stroke-width="0.7"/>
<line x1="696.2" y1="125" x2="701.3" y2="125" stroke-width="0.6"/>
<line x1="696.2" y1="127" x2="701.3" y2="127" stroke-width="0.6"/>
<line x1="696.2" y1="131.5" x2="701.3" y2="131.5" stroke-width="0.6"/>
<path d="M696.8,100.2 Q696.8,98.5 695,98.5 L689.3,98.5" stroke-width="0.7"/>
<path d="M700.7,99 Q700.7,94.8 696.5,94.8 L689.3,94.8" stroke-width="0.7"/>
<rect x="686" y="92.6" width="3.3" height="8" stroke-width="0.6"/>
<rect x="681" y="94" width="5" height="5.2" stroke-width="0.6" fill="#222"/>
<line x1="687.6" y1="91" x2="687.6" y2="92.6" stroke-width="0.6"/>
<line x1="686.5" y1="91" x2="688.8" y2="91" stroke-width="0.6"/>
<line x1="694.7" y1="141.3" x2="694.7" y2="203" stroke-width="0.7"/>
<line x1="697.3" y1="141.3" x2="697.3" y2="201.5" stroke-width="0.7"/>
<path d="M694.7,203 Q694.9,209.3 701,209.6 L705,209.6" stroke-width="0.7"/>
<path d="M697.3,201.5 Q697.5,206.6 701.5,206.9 L705,206.9" stroke-width="0.7"/>
<line x1="705" y1="206.2" x2="705" y2="210.2" stroke-width="0.7"/>
<line x1="694.2" y1="197" x2="697.8" y2="197" stroke-width="0.5"/>
<line x1="694.2" y1="199" x2="697.8" y2="199" stroke-width="0.5"/>
<rect x="701.3" y="182.6" width="48.7" height="2.4" stroke-width="0.7"/>
<rect x="700" y="181.8" width="1.3" height="4" stroke-width="0.6"/>
<line x1="706.5" y1="185.9" x2="718.5" y2="185.9" stroke-width="1.3"/>
<line x1="708.3" y1="185" x2="708.3" y2="188.8" stroke-width="1"/>
<line x1="716.8" y1="185" x2="716.8" y2="188.8" stroke-width="1"/>
<line x1="712.5" y1="185" x2="712.5" y2="187.3" stroke-width="0.6"/>
<polygon points="706.5,194.2 713.5,193.2 715.5,197.8 710,198.2" stroke-width="0.7" fill="#777"/>
<circle cx="716.2" cy="196.2" r="3.2" stroke-width="0.7"/>
<circle cx="716.2" cy="196.2" r="1.4" stroke-width="0.6" fill="#555"/>
<rect x="714.8" y="199.4" width="3.4" height="3.6" stroke-width="0.6" fill="#888"/>
<circle cx="716.5" cy="204.6" r="1.7" stroke-width="0.6"/>
<rect x="710" y="207.3" width="11.8" height="2.5" stroke-width="0.6"/>
<line x1="712" y1="207.3" x2="714.5" y2="205" stroke-width="0.5"/>
<circle cx="720.5" cy="208.5" r="0.8" fill="#222"/>
<rect x="713.6" y="189.5" width="1.2" height="3.5" stroke-width="0.5"/>
<rect x="720.8" y="195.1" width="34.2" height="5.9" stroke-width="0.6" fill="#1c1c1c"/>
<rect x="723" y="197.3" width="5.7" height="2.7" stroke-width="0.3" fill="#fff"/>
<rect x="731.3" y="197.3" width="5.4" height="2.7" stroke-width="0.3" fill="#fff"/>
<rect x="740" y="197.3" width="5" height="2.7" stroke-width="0.3" fill="#fff"/>
<rect x="748.3" y="197.3" width="4.7" height="2.7" stroke-width="0.3" fill="#fff"/>
<rect x="755" y="196.5" width="5.4" height="3.5" stroke-width="0.6"/>
<rect x="728" y="201" width="4" height="7.4" stroke-width="0.7"/>
<line x1="730" y1="201" x2="730" y2="208.4" stroke-width="0.4"/>
<rect x="743" y="201" width="4" height="7.4" stroke-width="0.7"/>
<line x1="745" y1="201" x2="745" y2="208.4" stroke-width="0.4"/>
<line x1="724.5" y1="201" x2="726" y2="203.5" stroke-width="0.5"/>
<line x1="733.5" y1="201" x2="735.5" y2="203.5" stroke-width="0.5"/>
<line x1="731.8" y1="180.3" x2="731.8" y2="194.8" stroke-width="0.6"/>
<line x1="733" y1="185" x2="733" y2="194.8" stroke-width="0.5"/>
<line x1="743.4" y1="180.3" x2="743.4" y2="194.8" stroke-width="0.6"/>
<line x1="744.6" y1="185" x2="744.6" y2="194.8" stroke-width="0.5"/>
<line x1="731.8" y1="186.8" x2="744.6" y2="186.8" stroke-width="0.6"/>
<line x1="731.8" y1="188" x2="744.6" y2="188" stroke-width="0.4"/>
<rect x="734" y="190" width="1.5" height="2.6" stroke-width="0.5" fill="#444"/>
<rect x="736.5" y="190" width="1.5" height="2.6" stroke-width="0.5" fill="#444"/>
<rect x="739" y="190" width="1.5" height="2.6" stroke-width="0.5" fill="#444"/>
<rect x="741.5" y="190" width="1.5" height="2.6" stroke-width="0.5" fill="#444"/>
<line x1="732" y1="193.5" x2="744.5" y2="193.5" stroke-width="0.5"/>
<path d="M751.5,177.4 H786.7 V184.4 H751.5 Q749,184.2 749,180.9 Q749,177.6 751.5,177.4 Z" stroke-width="0.9"/>
<line x1="751.5" y1="178.6" x2="786.7" y2="178.6" stroke-width="0.5"/>
<line x1="751.5" y1="183.3" x2="786.7" y2="183.3" stroke-width="0.5"/>
<line x1="761.6" y1="177.4" x2="761.6" y2="184.4" stroke-width="0.9"/>
<line x1="771.5" y1="177.4" x2="771.5" y2="184.4" stroke-width="0.9"/>
<line x1="782" y1="177.4" x2="782" y2="184.4" stroke-width="0.9"/>
<line x1="749.8" y1="184.4" x2="749.8" y2="186" stroke-width="0.6"/>
<polyline points="752.2,177.4 752.8,171.2 753.4,177.4" stroke-width="0.6"/>
<circle cx="752.8" cy="174.3" r="0.7" stroke-width="0.5"/>
<rect x="768" y="174.3" width="13" height="3.1" stroke-width="0.7"/>
<line x1="768" y1="175.5" x2="781" y2="175.5" stroke-width="1"/>
<circle cx="777" cy="175.8" r="1.2" stroke-width="0.5"/>
<rect x="789.6" y="176.3" width="3.4" height="5.7" stroke-width="0.6" fill="#222"/>
<line x1="786.7" y1="179" x2="789.6" y2="179" stroke-width="0.6"/>
<line x1="786.7" y1="181.5" x2="789.6" y2="181.5" stroke-width="0.6"/>
<rect x="760.8" y="184.4" width="2.5" height="25.9" stroke-width="0.7"/>
<line x1="752" y1="185.6" x2="789" y2="185.6" stroke-width="1"/>
<rect x="727.5" y="208.4" width="67.5" height="2.4" stroke-width="0.8" fill="#e6e6e6"/>
<path d="M766,187.4 H774 Q778.5,187.6 778.5,192 V204.9 H764 V189.4 Q764,187.5 766,187.4 Z" stroke-width="0.8"/>
<line x1="764" y1="191.5" x2="778.5" y2="191.5" stroke-width="0.4"/>
<line x1="764" y1="195" x2="778.5" y2="195" stroke-width="0.4"/>
<line x1="764" y1="198.5" x2="778.5" y2="198.5" stroke-width="0.4"/>
<line x1="764" y1="202" x2="778.5" y2="202" stroke-width="0.4"/>
<path d="M767,186.6 H775 Q779.8,186.8 779.8,192" stroke-width="1.3"/>
<polygon points="762.3,209.3 786,186.2 788,188.2 764.3,211.3" stroke-width="0.9" fill="#fff"/>
<rect x="779.3" y="196.5" width="7.7" height="10.7" stroke-width="0.7" fill="#151515"/>
<rect x="786.5" y="198.5" width="7.8" height="7.5" stroke-width="0.7"/>
<line x1="789" y1="198.5" x2="789" y2="206" stroke-width="0.5"/>
<line x1="791.5" y1="198.5" x2="791.5" y2="206" stroke-width="0.5"/>
<rect x="781" y="199" width="3.5" height="4" stroke-width="0.5" fill="#777"/>
<line x1="779" y1="207.6" x2="795" y2="207.6" stroke-width="0.6"/>
<rect x="819.2" y="9.2" width="5" height="10" stroke-width="0.7"/>
<line x1="819.2" y1="16.5" x2="824.2" y2="16.5" stroke-width="0.6"/>
<line x1="819.2" y1="14.5" x2="824.2" y2="14.5" stroke-width="0.4"/>
<line x1="819.5" y1="19.2" x2="817.8" y2="53.7" stroke-width="0.7"/>
<line x1="824" y1="19.2" x2="823.6" y2="53.7" stroke-width="0.7"/>
<line x1="820.5" y1="20" x2="823" y2="53" stroke-width="0.5"/>
<line x1="821.3" y1="19.2" x2="819.3" y2="53.7" stroke-width="0.4"/>
<line x1="820.8" y1="22.4" x2="822.3" y2="23.6" stroke-width="0.7"/>
<line x1="820.8" y1="32.9" x2="822.3" y2="34.1" stroke-width="0.7"/>
<line x1="820.8" y1="47.9" x2="822.3" y2="49.1" stroke-width="0.7"/>
<rect x="812.2" y="53.7" width="18.6" height="23" stroke-width="0.8"/>
<rect x="815.5" y="59.5" width="12.8" height="15.5" stroke-width="0.6"/>
<rect x="818.5" y="54" width="4" height="4.5" stroke-width="0.5"/>
<line x1="817" y1="76.5" x2="826" y2="76.5" stroke-width="1"/>
<line x1="819" y1="77.5" x2="825.5" y2="77.5" stroke-width="1.4"/>
<line x1="819.5" y1="75" x2="819.5" y2="81.7" stroke-width="0.5"/>
<line x1="824.8" y1="75" x2="824.8" y2="81.7" stroke-width="0.5"/>
<rect x="787.5" y="81.5" width="127.5" height="2.4" stroke-width="0.9" fill="#ddd"/>
<line x1="787.5" y1="65.3" x2="915" y2="65.3" stroke-width="1.3"/>
<line x1="787.5" y1="66.6" x2="915" y2="66.6" stroke-width="0.4"/>
<line x1="787.5" y1="65.3" x2="787.5" y2="81.7" stroke-width="1"/>
<line x1="915" y1="65.3" x2="915" y2="81.7" stroke-width="1"/>
<line x1="790.3" y1="65.3" x2="790.3" y2="81.7" stroke-width="0.9"/>
<line x1="797.5" y1="65.3" x2="797.5" y2="81.7" stroke-width="0.9"/>
<line x1="805" y1="65.3" x2="805" y2="81.7" stroke-width="0.9"/>
<line x1="812.8" y1="65.3" x2="812.8" y2="81.7" stroke-width="0.9"/>
<line x1="820" y1="65.3" x2="820" y2="81.7" stroke-width="0.9"/>
<line x1="827.5" y1="65.3" x2="827.5" y2="81.7" stroke-width="0.9"/>
<line x1="835" y1="65.3" x2="835" y2="81.7" stroke-width="0.9"/>
<line x1="848" y1="65.3" x2="848" y2="81.7" stroke-width="0.9"/>
<line x1="855.2" y1="65.3" x2="855.2" y2="81.7" stroke-width="0.9"/>
<line x1="862.4" y1="65.3" x2="862.4" y2="81.7" stroke-width="0.9"/>
<line x1="869.6" y1="65.3" x2="869.6" y2="81.7" stroke-width="0.9"/>
<line x1="884.5" y1="65.3" x2="884.5" y2="81.7" stroke-width="0.9"/>
<line x1="891.7" y1="65.3" x2="891.7" y2="81.7" stroke-width="0.9"/>
<line x1="898.9" y1="65.3" x2="898.9" y2="81.7" stroke-width="0.9"/>
<line x1="906.1" y1="65.3" x2="906.1" y2="81.7" stroke-width="0.9"/>
<line x1="911" y1="65.3" x2="911" y2="81.7" stroke-width="0.9"/>
<rect x="842.2" y="46.7" width="72.5" height="2.5" stroke-width="0.7"/>
<rect x="842.2" y="49.2" width="2.6" height="32.5" stroke-width="0.7"/>
<rect x="911.8" y="49.2" width="2.9" height="32.5" stroke-width="0.7"/>
<rect x="875.5" y="9.2" width="5" height="10" stroke-width="0.7"/>
<line x1="875.5" y1="14.2" x2="880.5" y2="14.2" stroke-width="0.6"/>
<line x1="875.5" y1="16.5" x2="880.5" y2="16.5" stroke-width="0.6"/>
<path d="M873.3,46.7 V36.5 Q873.5,34.3 875.8,34.2 H881 Q883.6,34.3 883.7,36.5 V46.7" stroke-width="0.7"/>
<line x1="874.5" y1="40" x2="874.5" y2="46.7" stroke-width="0.4"/>
<line x1="882.5" y1="40" x2="882.5" y2="46.7" stroke-width="0.4"/>
<line x1="875.75" y1="49.5" x2="864.55" y2="74.5" stroke-width="0.6"/>
<line x1="875.75" y1="53" x2="866.55" y2="74.5" stroke-width="0.6"/>
<line x1="875.75" y1="55" x2="870.55" y2="74.5" stroke-width="0.5"/>
<line x1="875.75" y1="59" x2="872.55" y2="74.5" stroke-width="0.5"/>
<polyline points="873.55,53 871.75,52 871.25,55.5" stroke-width="0.5"/>
<line x1="874.55" y1="71" x2="866.05" y2="71" stroke-width="0.4"/>
<line x1="880.35" y1="49.5" x2="891.55" y2="74.5" stroke-width="0.6"/>
<line x1="880.35" y1="53" x2="889.55" y2="74.5" stroke-width="0.6"/>
<line x1="880.35" y1="55" x2="885.55" y2="74.5" stroke-width="0.5"/>
<line x1="880.35" y1="59" x2="883.55" y2="74.5" stroke-width="0.5"/>
<polyline points="882.55,53 884.35,52 884.85,55.5" stroke-width="0.5"/>
<line x1="881.55" y1="71" x2="890.05" y2="71" stroke-width="0.4"/>
<rect x="855" y="75.8" width="20.8" height="5.9" stroke-width="0.5"/>
<rect x="883.7" y="75.8" width="23" height="5.9" stroke-width="0.5"/>
<line x1="884.5" y1="78.3" x2="887.5" y2="78.3" stroke-width="0.5"/>
<rect x="854.2" y="83.6" width="51.8" height="18.4" stroke-width="0.7"/>
<line x1="872.2" y1="83.6" x2="872.2" y2="102" stroke-width="0.5"/>
<line x1="888.7" y1="83.6" x2="888.7" y2="102" stroke-width="0.5"/>
<polyline points="854.2,102 860.2,115.5 867.7,115.5 872.2,102" stroke-width="0.7"/>
<polyline points="888.7,102 894,115.5 901.5,115.5 906,102" stroke-width="0.7"/>
<line x1="872.2" y1="102" x2="875.8" y2="115.5" stroke-width="0.7"/>
<line x1="888.7" y1="102" x2="883.5" y2="115.5" stroke-width="0.7"/>
<line x1="880.3" y1="115.5" x2="883.5" y2="115.5" stroke-width="0.6"/>
<rect x="860.2" y="115.5" width="7.5" height="5.2" stroke-width="0.6"/>
<rect x="894" y="115.5" width="7.5" height="5.2" stroke-width="0.6"/>
<line x1="880.3" y1="120.7" x2="883.5" y2="120.7" stroke-width="0.6"/>
<line x1="883.5" y1="115.5" x2="883.5" y2="120.7" stroke-width="0.6"/>
<rect x="858" y="122.7" width="44.2" height="1.8" stroke-width="0.6"/>
<line x1="858.7" y1="124.5" x2="875.8" y2="132.9" stroke-width="0.7"/>
<line x1="901.5" y1="124.5" x2="880.3" y2="132.9" stroke-width="0.7"/>
<rect x="870.7" y="135.7" width="18" height="5.3" stroke-width="0.6"/>
<rect x="880.6" y="133.5" width="3.6" height="2.2" stroke-width="0.5"/>
<line x1="871.5" y1="141" x2="875.8" y2="154.5" stroke-width="0.6"/>
<line x1="888" y1="141" x2="880.3" y2="154.5" stroke-width="0.6"/>
<line x1="873.5" y1="141" x2="875.8" y2="150" stroke-width="0.4"/>
<line x1="886" y1="141" x2="882" y2="150" stroke-width="0.4"/>
<rect x="875.8" y="19.2" width="4.5" height="159.8" stroke-width="0.8" fill="#fff"/>
<line x1="875.8" y1="63" x2="880.3" y2="63" stroke-width="0.5"/>
<line x1="875.8" y1="88" x2="880.3" y2="88" stroke-width="0.5"/>
<line x1="875.8" y1="93" x2="880.3" y2="93" stroke-width="0.5"/>
<line x1="875.8" y1="109.5" x2="880.3" y2="109.5" stroke-width="0.5"/>
<line x1="875.8" y1="128" x2="880.3" y2="128" stroke-width="0.5"/>
<line x1="875.8" y1="133" x2="880.3" y2="133" stroke-width="0.5"/>
<path d="M873.3,46.7 V36.5 Q873.5,34.3 875.8,34.2 H881 Q883.6,34.3 883.7,36.5 V46.7" stroke-width="0.7"/>
<rect x="787.5" y="83.6" width="2.2" height="126.7" stroke-width="0.6"/>
<rect x="819.7" y="83.6" width="3" height="74" stroke-width="0.6"/>
<rect x="843.2" y="83.6" width="2.8" height="74" stroke-width="0.6"/>
<rect x="913.5" y="83.6" width="1.8" height="74" stroke-width="0.6"/>
<line x1="789.7" y1="103.5" x2="812.2" y2="85.5" stroke-width="0.6"/>
<line x1="805.5" y1="105" x2="823.5" y2="86.2" stroke-width="0.6"/>
<line x1="794" y1="100" x2="807.5" y2="89.5" stroke-width="0.4"/>
<rect x="789.7" y="105.7" width="15" height="28.5" stroke-width="0.6"/>
<line x1="789.7" y1="131.2" x2="804.7" y2="131.2" stroke-width="0.4"/>
<polyline points="789.7,134.2 795,156 800.2,156 804.7,134.2" stroke-width="0.6"/>
<line x1="793.5" y1="141" x2="793.5" y2="156" stroke-width="0.4"/>
<line x1="801" y1="141" x2="801" y2="156" stroke-width="0.4"/>
<line x1="796" y1="145" x2="796" y2="157.6" stroke-width="0.4"/>
<line x1="799" y1="145" x2="799" y2="157.6" stroke-width="0.4"/>
<line x1="832.16" y1="92.36" x2="822.46" y2="106.66" stroke-width="0.7"/>
<line x1="834.64" y1="94.04" x2="824.94" y2="108.34" stroke-width="0.7"/>
<line x1="822.2" y1="106.2" x2="825.3" y2="108.6" stroke-width="0.6"/>
<line x1="831.8" y1="92.3" x2="835" y2="94.3" stroke-width="0.6"/>
<polyline points="829.5,84 841.5,84 836.5,92 833,92" stroke-width="0.6"/>
<rect x="822.7" y="114.7" width="16.5" height="26.3" stroke-width="0.7"/>
<polyline points="837.7,114.7 837.7,105.5 839.6,102 841.5,105.5 841.5,141" stroke-width="0.6"/>
<line x1="839.6" y1="106" x2="839.6" y2="141" stroke-width="0.4"/>
<line x1="836" y1="96" x2="836" y2="114.7" stroke-width="0.4"/>
<polygon points="787.51,84.69 841.51,159.19 843.69,157.61 789.69,83.11" stroke-width="0.9" fill="#fff"/>
<rect x="787.5" y="157.6" width="128.5" height="3.6" stroke-width="0.9" fill="#e4e4e4"/>
<line x1="787.5" y1="141" x2="916" y2="141" stroke-width="1.3"/>
<line x1="787.5" y1="142.3" x2="916" y2="142.3" stroke-width="0.4"/>
<line x1="787.5" y1="141" x2="787.5" y2="157.6" stroke-width="0.9"/>
<line x1="798" y1="141" x2="798" y2="157.6" stroke-width="0.9"/>
<line x1="805.5" y1="141" x2="805.5" y2="157.6" stroke-width="0.9"/>
<line x1="812.3" y1="141" x2="812.3" y2="157.6" stroke-width="0.9"/>
<line x1="819.7" y1="141" x2="819.7" y2="157.6" stroke-width="0.9"/>
<line x1="826.5" y1="141" x2="826.5" y2="157.6" stroke-width="0.9"/>
<line x1="833.2" y1="141" x2="833.2" y2="157.6" stroke-width="0.9"/>
<line x1="840" y1="141" x2="840" y2="157.6" stroke-width="0.9"/>
<line x1="847.5" y1="141" x2="847.5" y2="157.6" stroke-width="0.9"/>
<line x1="853.5" y1="141" x2="853.5" y2="157.6" stroke-width="0.9"/>
<line x1="858.5" y1="141" x2="858.5" y2="157.6" stroke-width="0.9"/>
<line x1="865.2" y1="141" x2="865.2" y2="157.6" stroke-width="0.9"/>
<line x1="871.5" y1="141" x2="871.5" y2="157.6" stroke-width="0.9"/>
<line x1="884" y1="141" x2="884" y2="157.6" stroke-width="0.9"/>
<line x1="890.5" y1="141" x2="890.5" y2="157.6" stroke-width="0.9"/>
<line x1="898" y1="141" x2="898" y2="157.6" stroke-width="0.9"/>
<line x1="905.2" y1="141" x2="905.2" y2="157.6" stroke-width="0.9"/>
<line x1="912.7" y1="141" x2="912.7" y2="157.6" stroke-width="0.9"/>
<line x1="797" y1="161.2" x2="797" y2="177" stroke-width="0.6"/>
<line x1="801.5" y1="161.2" x2="801.5" y2="177" stroke-width="0.6"/>
<rect x="796.2" y="164" width="1.8" height="6.5" stroke-width="0.5" fill="#333"/>
<rect x="796.2" y="172" width="1.8" height="4" stroke-width="0.5" fill="#333"/>
<circle cx="803" cy="166" r="0.6" fill="#222"/>
<circle cx="803" cy="169" r="0.6" fill="#222"/>
<circle cx="803" cy="173" r="0.6" fill="#222"/>
<line x1="795.5" y1="177.6" x2="806" y2="177.6" stroke-width="0.8"/>
<line x1="797" y1="177.6" x2="797" y2="180.5" stroke-width="0.8"/>
<polyline points="798.5,185 800.6,190.5 805,190.5 807.7,185" stroke-width="0.6"/>
<line x1="793" y1="185" x2="808" y2="185" stroke-width="0.5"/>
<rect x="803.6" y="190.5" width="2.8" height="19.8" stroke-width="0.6"/>
<line x1="818.8" y1="161.2" x2="818.8" y2="223.2" stroke-width="0.7"/>
<line x1="823.7" y1="161.2" x2="823.7" y2="223.2" stroke-width="0.7"/>
<circle cx="821.3" cy="166" r="1.6" stroke-width="0.5"/>
<line x1="820.2" y1="168" x2="820.2" y2="175" stroke-width="0.4"/>
<line x1="822.4" y1="168" x2="822.4" y2="175" stroke-width="0.4"/>
<rect x="818.2" y="223.2" width="6.4" height="15.8" stroke-width="0.8"/>
<line x1="818.2" y1="227" x2="824.6" y2="227" stroke-width="0.6"/>
<line x1="818.2" y1="231.5" x2="824.6" y2="231.5" stroke-width="0.6"/>
<rect x="819.3" y="232.5" width="4.2" height="5.5" stroke-width="0.5"/>
<line x1="835.1" y1="161.2" x2="835.1" y2="209" stroke-width="0.7"/>
<line x1="841.2" y1="161.2" x2="841.2" y2="209" stroke-width="0.7"/>
<line x1="845.6" y1="161.2" x2="845.6" y2="209" stroke-width="0.6"/>
<line x1="837.5" y1="161.2" x2="837.5" y2="176" stroke-width="0.4"/>
<circle cx="838.5" cy="166" r="1.2" stroke-width="0.5"/>
<polyline points="835.1,253 835.1,226 840.3,218.7 845.6,226 845.6,253" stroke-width="0.7"/>
<line x1="838" y1="222.4" x2="838" y2="239" stroke-width="0.4"/>
<line x1="842.7" y1="222.4" x2="842.7" y2="239" stroke-width="0.4"/>
<line x1="840.3" y1="219" x2="840.3" y2="239" stroke-width="0.4"/>
<path d="M835.1,239 H845.8 V250.5 Q845.6,253.8 842.5,254 H838.5 Q835.2,253.8 835.1,250.5 Z" stroke-width="0.9"/>
<rect x="815" y="190" width="31.5" height="17.5" stroke-width="0.9"/>
<line x1="815" y1="207.5" x2="815" y2="210.3" stroke-width="0.9"/>
<rect x="845" y="190" width="1.8" height="20.3" stroke-width="0.8" fill="#555"/>
<line x1="816" y1="190" x2="816" y2="210" stroke-width="0.5"/>
<rect x="822" y="186" width="11" height="4" stroke-width="0.6"/>
<rect x="824.5" y="190" width="2" height="3" stroke-width="0.5"/>
<rect x="829.5" y="190" width="2" height="3.5" stroke-width="0.5"/>
<line x1="820" y1="193" x2="820" y2="197" stroke-width="0.5"/>
<line x1="822.5" y1="193" x2="822.5" y2="197" stroke-width="0.5"/>
<polyline points="838.6,198.7 838.6,192 839.9,189 841.2,192 841.2,198.7" stroke-width="0.5"/>
<line x1="855.39" y1="205.68" x2="846.39" y2="240.18" stroke-width="0.7"/>
<line x1="857.81" y1="206.32" x2="848.81" y2="240.82" stroke-width="0.7"/>
<polyline points="853.5,204.5 860.5,204.5 867.4,206 858,206.5" stroke-width="0.6"/>
<line x1="846" y1="239.5" x2="849.3" y2="241.5" stroke-width="0.6"/>
<line x1="846.3" y1="236" x2="848.8" y2="236.8" stroke-width="0.5"/>
<polygon points="841.1,159.79 786.3,208.79 788.1,210.81 842.9,161.81" stroke-width="0.9" fill="#fff"/>
<rect x="871.3" y="163.2" width="24.2" height="19.8" stroke-width="0.7"/>
<rect x="869.5" y="166.5" width="3.3" height="14" stroke-width="0.5"/>
<rect x="873" y="172.3" width="2" height="2.3" stroke-width="0.4" fill="#222"/>
<rect x="881.8" y="172.3" width="2.2" height="2.3" stroke-width="0.4" fill="#222"/>
<rect x="885.8" y="175.5" width="6.4" height="4.3" stroke-width="0.5" fill="#ddd"/>
<circle cx="895.5" cy="173" r="0.7" fill="#222"/>
<polyline points="875.8,176 877,183 879.6,183 880.3,176" stroke-width="0.7"/>
<line x1="873.5" y1="176" x2="883" y2="176" stroke-width="0.5"/>
<path d="M867.3,210.9 V184.3 Q867.4,183.2 868.5,183.1 H887.4 Q888.5,183.2 888.6,184.3 V210.9 Z" stroke-width="0.9" fill="#fff"/>
<line x1="869.5" y1="185" x2="869.5" y2="210" stroke-width="0.5"/>
<line x1="886" y1="184" x2="886" y2="210.9" stroke-width="0.6"/>
<line x1="872.5" y1="185.5" x2="872.5" y2="210.9" stroke-width="1.7"/>
<line x1="883" y1="185.5" x2="883" y2="210.9" stroke-width="1.7"/>
<line x1="871" y1="186.5" x2="871" y2="210" stroke-width="0.4"/>
<line x1="884.6" y1="186.5" x2="884.6" y2="210" stroke-width="0.4"/>
<ellipse cx="877.8" cy="198.5" rx="2.6" ry="9.8" stroke-width="1.5"/>
<ellipse cx="877.8" cy="198.5" rx="0.9" ry="7.8" stroke-width="0.6"/>
<line x1="875" y1="187.5" x2="880.6" y2="187.5" stroke-width="0.7"/>
<line x1="874" y1="210" x2="881.6" y2="210" stroke-width="1.2"/>
<polyline points="875.6,183.1 877.8,186.8 880,183.1" stroke-width="0.6"/>
<rect x="867.3" y="210.9" width="21.3" height="6.9" stroke-width="0.8"/>
<polyline points="867.3,217.8 875.6,231.7 879.4,231.7 888.6,217.8" stroke-width="0.8"/>
<line x1="870" y1="222.3" x2="886" y2="222.3" stroke-width="0.4"/>
<rect x="875.6" y="231.7" width="4" height="7.8" stroke-width="0.6" fill="#555"/>
<line x1="874.8" y1="233.3" x2="880.4" y2="233.3" stroke-width="0.8"/>
<line x1="874.8" y1="236.8" x2="880.4" y2="236.8" stroke-width="0.8"/>
<rect x="874.2" y="239.5" width="8" height="19" stroke-width="0.9"/>
<line x1="874.2" y1="243" x2="882.2" y2="243" stroke-width="0.5"/>
<line x1="874.2" y1="246.5" x2="882.2" y2="246.5" stroke-width="0.5"/>
<line x1="874.2" y1="250" x2="882.2" y2="250" stroke-width="0.5"/>
<line x1="874.2" y1="254" x2="882.2" y2="254" stroke-width="0.5"/>
<line x1="876" y1="239.5" x2="876" y2="258.5" stroke-width="0.5"/>
<line x1="880.4" y1="239.5" x2="880.4" y2="258.5" stroke-width="0.5"/>
<rect x="894.1" y="182.3" width="2.3" height="28.7" stroke-width="0.7"/>
<polyline points="888.6,188.5 894.1,188.5 894.1,191 888.6,198" stroke-width="0.6"/>
<rect x="913" y="161.2" width="2.5" height="49.8" stroke-width="0.7"/>
<line x1="900" y1="172.5" x2="900" y2="174" stroke-width="0.8"/>
<line x1="916.5" y1="186" x2="916.5" y2="187" stroke-width="0.6"/>
<line x1="907" y1="199" x2="907" y2="200" stroke-width="0.6"/>
<rect x="285.4" y="383.3" width="16.3" height="20.6" stroke-width="0.8"/>
<rect x="301.7" y="390.3" width="2" height="11.5" stroke-width="0.6"/>
<circle cx="293.3" cy="391.3" r="6.7" stroke-width="0.8"/>
<line x1="288.6" y1="386.6" x2="298" y2="396" stroke-width="1"/>
<line x1="298" y1="386.6" x2="288.6" y2="396" stroke-width="0.4"/>
<line x1="293.3" y1="384.6" x2="293.3" y2="398" stroke-width="0.8"/>
<rect x="290.8" y="381.3" width="5" height="4" stroke-width="0.6"/>
<line x1="292" y1="381.3" x2="292" y2="385.3" stroke-width="0.4"/>
<line x1="294.6" y1="381.3" x2="294.6" y2="385.3" stroke-width="0.4"/>
<circle cx="293.3" cy="391.3" r="1.2" stroke-width="0.5" fill="#333"/>
<rect x="286.5" y="399.5" width="14.3" height="3.6" stroke-width="0.6" fill="#333"/>
<rect x="288.5" y="400.5" width="10.5" height="1.6" stroke-width="0.4" fill="#eee"/>
<line x1="285.4" y1="398.5" x2="301.7" y2="398.5" stroke-width="0.5"/>
<circle cx="300" cy="392.3" r="0.7" fill="#222"/>
<circle cx="287" cy="386.3" r="0.5" fill="#222"/>
<rect x="285.4" y="449.6" width="16.3" height="20.6" stroke-width="0.8"/>
<rect x="301.7" y="456.6" width="2" height="11.5" stroke-width="0.6"/>
<circle cx="293.3" cy="457.6" r="6.7" stroke-width="0.8"/>
<line x1="288.6" y1="452.9" x2="298" y2="462.3" stroke-width="1"/>
<line x1="298" y1="452.9" x2="288.6" y2="462.3" stroke-width="0.4"/>
<line x1="293.3" y1="450.9" x2="293.3" y2="464.3" stroke-width="0.8"/>
<rect x="290.8" y="447.6" width="5" height="4" stroke-width="0.6"/>
<line x1="292" y1="447.6" x2="292" y2="451.6" stroke-width="0.4"/>
<line x1="294.6" y1="447.6" x2="294.6" y2="451.6" stroke-width="0.4"/>
<circle cx="293.3" cy="457.6" r="1.2" stroke-width="0.5" fill="#333"/>
<rect x="286.5" y="465.8" width="14.3" height="3.6" stroke-width="0.6" fill="#333"/>
<rect x="288.5" y="466.8" width="10.5" height="1.6" stroke-width="0.4" fill="#eee"/>
<line x1="285.4" y1="464.8" x2="301.7" y2="464.8" stroke-width="0.5"/>
<circle cx="300" cy="458.6" r="0.7" fill="#222"/>
<circle cx="287" cy="452.6" r="0.5" fill="#222"/>
<rect x="285.4" y="410.4" width="15.6" height="34.4" stroke-width="0.8"/>
<rect x="296.3" y="411.5" width="4.7" height="32.3" stroke-width="0.6" fill="#555"/>
<line x1="296.3" y1="412.5" x2="301" y2="412.5" stroke-width="0.5" stroke="#ccc"/>
<line x1="296.3" y1="414.5" x2="301" y2="414.5" stroke-width="0.5" stroke="#ccc"/>
<line x1="296.3" y1="416.5" x2="301" y2="416.5" stroke-width="0.5" stroke="#ccc"/>
<line x1="296.3" y1="418.5" x2="301" y2="418.5" stroke-width="0.5" stroke="#ccc"/>
<line x1="296.3" y1="420.5" x2="301" y2="420.5" stroke-width="0.5" stroke="#ccc"/>
<line x1="296.3" y1="422.5" x2="301" y2="422.5" stroke-width="0.5" stroke="#ccc"/>
<line x1="296.3" y1="424.5" x2="301" y2="424.5" stroke-width="0.5" stroke="#ccc"/>
<line x1="296.3" y1="426.5" x2="301" y2="426.5" stroke-width="0.5" stroke="#ccc"/>
<line x1="296.3" y1="428.5" x2="301" y2="428.5" stroke-width="0.5" stroke="#ccc"/>
<line x1="296.3" y1="430.5" x2="301" y2="430.5" stroke-width="0.5" stroke="#ccc"/>
<line x1="296.3" y1="432.5" x2="301" y2="432.5" stroke-width="0.5" stroke="#ccc"/>
<line x1="296.3" y1="434.5" x2="301" y2="434.5" stroke-width="0.5" stroke="#ccc"/>
<line x1="296.3" y1="436.5" x2="301" y2="436.5" stroke-width="0.5" stroke="#ccc"/>
<line x1="296.3" y1="438.5" x2="301" y2="438.5" stroke-width="0.5" stroke="#ccc"/>
<line x1="296.3" y1="440.5" x2="301" y2="440.5" stroke-width="0.5" stroke="#ccc"/>
<line x1="296.3" y1="442.5" x2="301" y2="442.5" stroke-width="0.5" stroke="#ccc"/>
<line x1="295" y1="411" x2="295" y2="444.5" stroke-width="0.5"/>
<path d="M287.5,416 A3.2,3.2 0 0 1 293.9,416" stroke-width="0.7"/>
<line x1="287.5" y1="416" x2="293.9" y2="416" stroke-width="0.6"/>
<line x1="290.7" y1="416" x2="290.7" y2="419.5" stroke-width="0.7"/>
<rect x="289.7" y="419.2" width="2" height="1.8" stroke-width="0.4" fill="#333"/>
<circle cx="294.3" cy="418.5" r="0.7" fill="#222"/>
<path d="M287.5,428.2 A3.2,3.2 0 0 1 293.9,428.2" stroke-width="0.7"/>
<line x1="287.5" y1="428.2" x2="293.9" y2="428.2" stroke-width="0.6"/>
<line x1="290.7" y1="428.2" x2="290.7" y2="431.7" stroke-width="0.7"/>
<rect x="289.7" y="431.4" width="2" height="1.8" stroke-width="0.4" fill="#333"/>
<circle cx="294.3" cy="430.7" r="0.7" fill="#222"/>
<path d="M287.5,440 A3.2,3.2 0 0 1 293.9,440" stroke-width="0.7"/>
<line x1="287.5" y1="440" x2="293.9" y2="440" stroke-width="0.6"/>
<line x1="290.7" y1="440" x2="290.7" y2="443.5" stroke-width="0.7"/>
<rect x="289.7" y="443.2" width="2" height="1.8" stroke-width="0.4" fill="#333"/>
<circle cx="294.3" cy="442.5" r="0.7" fill="#222"/>
<line x1="285.4" y1="422.3" x2="295" y2="422.3" stroke-width="0.5"/>
<line x1="285.4" y1="434.3" x2="295" y2="434.3" stroke-width="0.5"/>
<rect x="287" y="408.8" width="6" height="1.6" stroke-width="0.5"/>
<rect x="285.4" y="475" width="15.6" height="19.8" stroke-width="0.7"/>
<circle cx="293.6" cy="485" r="6.7" stroke-width="0.8"/>
<line x1="293.6" y1="478.3" x2="293.6" y2="491.7" stroke-width="0.8"/>
<circle cx="300.6" cy="485" r="0.7" fill="#222"/>
<circle cx="298.3" cy="487.5" r="0.4" fill="#222"/>
<polygon points="346,396 361,396 366,401 366,415 361,420 346,420 341,415 341,401" stroke-width="1.1"/>
<polygon points="347,398.3 360,398.3 363.7,402 363.7,414 360,417.7 347,417.7 343.3,414 343.3,402" stroke-width="0.5"/>
<line x1="347.5" y1="394.6" x2="347.5" y2="396" stroke-width="0.9"/>
<line x1="350.5" y1="394.6" x2="350.5" y2="396" stroke-width="0.9"/>
<line x1="353.5" y1="394.6" x2="353.5" y2="396" stroke-width="0.9"/>
<line x1="356.5" y1="394.6" x2="356.5" y2="396" stroke-width="0.9"/>
<line x1="359.5" y1="394.6" x2="359.5" y2="396" stroke-width="0.9"/>
<line x1="347.5" y1="420" x2="347.5" y2="421.4" stroke-width="0.9"/>
<line x1="350.5" y1="420" x2="350.5" y2="421.4" stroke-width="0.9"/>
<line x1="356.5" y1="420" x2="356.5" y2="421.4" stroke-width="0.9"/>
<line x1="359.5" y1="420" x2="359.5" y2="421.4" stroke-width="0.9"/>
<line x1="339.8" y1="402.5" x2="341" y2="402.5" stroke-width="0.9"/>
<line x1="366" y1="402.5" x2="367.2" y2="402.5" stroke-width="0.9"/>
<line x1="339.8" y1="413.5" x2="341" y2="413.5" stroke-width="0.9"/>
<line x1="366" y1="413.5" x2="367.2" y2="413.5" stroke-width="0.9"/>
<line x1="343.3" y1="402" x2="350.8" y2="404" stroke-width="0.5"/>
<line x1="343.3" y1="414" x2="350.8" y2="412" stroke-width="0.5"/>
<line x1="347" y1="398.3" x2="351" y2="404" stroke-width="0.5"/>
<line x1="360" y1="398.3" x2="357" y2="404" stroke-width="0.5"/>
<line x1="347" y1="417.7" x2="351" y2="412" stroke-width="0.5"/>
<line x1="360" y1="417.7" x2="357" y2="412" stroke-width="0.5"/>
<rect x="350.8" y="404" width="25.2" height="8" stroke-width="0.8"/>
<path d="M350.8,405.5 H346 V410.5 H350.8" stroke-width="0.6"/>
<line x1="352.5" y1="404" x2="352.5" y2="412" stroke-width="0.4"/>
<rect x="323.5" y="406.2" width="17.5" height="3.8" stroke-width="0.7"/>
<line x1="329" y1="406.2" x2="329" y2="410" stroke-width="0.5"/>
<line x1="330.2" y1="406.2" x2="330.2" y2="410" stroke-width="0.5"/>
<line x1="337" y1="406.2" x2="337" y2="410" stroke-width="0.5"/>
<circle cx="320.4" cy="404.6" r="3.5" stroke-width="0.7"/>
<circle cx="320.4" cy="404.6" r="1.8" stroke-width="0.5"/>
<line x1="320.31" y1="401.09" x2="313.61" y2="382.69" stroke-width="0.7"/>
<line x1="317.49" y1="402.11" x2="310.79" y2="383.71" stroke-width="0.7"/>
<line x1="310.6" y1="383.7" x2="313.9" y2="382.6" stroke-width="0.6"/>
<line x1="317.3" y1="402.3" x2="320.6" y2="401.1" stroke-width="0.5"/>
<rect x="309" y="378.5" width="11" height="2.5" stroke-width="0.6"/>
<line x1="311.5" y1="381" x2="314.5" y2="383" stroke-width="0.5"/>
<rect x="311.2" y="373" width="4.6" height="5.5" stroke-width="0.5" fill="#333"/>
<line x1="310.5" y1="375.5" x2="316.5" y2="375.5" stroke-width="0.5"/>
<rect x="376" y="404.4" width="38.8" height="7.2" stroke-width="0.7"/>
<line x1="377.5" y1="403.5" x2="377.5" y2="412.5" stroke-width="0.7"/>
<line x1="379" y1="403.5" x2="379" y2="412.5" stroke-width="0.7"/>
<line x1="386.5" y1="403.5" x2="386.5" y2="412.5" stroke-width="0.7"/>
<line x1="388" y1="403.5" x2="388" y2="412.5" stroke-width="0.7"/>
<line x1="393.5" y1="403.5" x2="393.5" y2="412.5" stroke-width="0.7"/>
<line x1="395" y1="403.5" x2="395" y2="412.5" stroke-width="0.7"/>
<line x1="400.5" y1="403.5" x2="400.5" y2="412.5" stroke-width="0.7"/>
<line x1="379" y1="405.5" x2="386.5" y2="405.5" stroke-width="0.4"/>
<line x1="379" y1="410.5" x2="386.5" y2="410.5" stroke-width="0.4"/>
<line x1="388" y1="405.8" x2="393.5" y2="405.8" stroke-width="0.6"/>
<line x1="388" y1="410.2" x2="393.5" y2="410.2" stroke-width="0.6"/>
<rect x="372" y="401.8" width="6" height="2.6" stroke-width="0.5"/>
<rect x="396" y="411.6" width="3.5" height="2.7" stroke-width="0.5" fill="#777"/>
<line x1="370" y1="412" x2="374" y2="412" stroke-width="0.5"/>
<circle cx="371" cy="413.2" r="0.7" fill="#222"/>
<polyline points="345.2,420 349,429 358.2,429 362,420" stroke-width="0.8"/>
<line x1="347" y1="424.5" x2="360.2" y2="424.5" stroke-width="0.5"/>
<line x1="349" y1="429" x2="349" y2="433" stroke-width="0.6"/>
<line x1="358.2" y1="429" x2="358.2" y2="433" stroke-width="0.6"/>
<rect x="350" y="433" width="7.2" height="11" stroke-width="0.7"/>
<line x1="350" y1="436" x2="357.2" y2="436" stroke-width="0.5"/>
<line x1="350" y1="440" x2="357.2" y2="440" stroke-width="0.5"/>
<line x1="351.5" y1="429" x2="351.5" y2="433" stroke-width="0.4"/>
<line x1="355.7" y1="429" x2="355.7" y2="433" stroke-width="0.4"/>
<polyline points="350,444 351,447 356.2,447 357.2,444" stroke-width="0.6"/>
<rect x="349.2" y="447" width="7.4" height="25" stroke-width="0.8"/>
<rect x="347.2" y="443.5" width="2" height="8.5" stroke-width="0.5" fill="#444"/>
<line x1="350.4" y1="447" x2="350.4" y2="472" stroke-width="0.4"/>
<line x1="355.4" y1="447" x2="355.4" y2="472" stroke-width="0.4"/>
<circle cx="358.5" cy="455" r="0.6" fill="#222"/>
<circle cx="358.5" cy="463" r="0.6" fill="#222"/>
<rect x="342.5" y="463.5" width="21.5" height="21.8" stroke-width="0.8"/>
<rect x="349.2" y="463.5" width="7.4" height="8.5" stroke-width="0.8" fill="#fff"/>
<circle cx="343.8" cy="464.8" r="0.8" stroke-width="0.5"/>
<circle cx="362.7" cy="464.8" r="0.8" stroke-width="0.5"/>
<circle cx="343.8" cy="484" r="0.8" stroke-width="0.5"/>
<circle cx="362.7" cy="484" r="0.8" stroke-width="0.5"/>
<line x1="342.5" y1="472.5" x2="364" y2="472.5" stroke-width="0.5"/>
<circle cx="346.5" cy="474.2" r="1.2" stroke-width="0.5"/>
<circle cx="352" cy="474.2" r="1.2" stroke-width="0.5"/>
<circle cx="355" cy="474.2" r="1.2" stroke-width="0.5"/>
<line x1="346" y1="485.3" x2="346" y2="487.5" stroke-width="0.6"/>
<line x1="360.5" y1="485.3" x2="360.5" y2="487.5" stroke-width="0.6"/>
<rect x="350.5" y="485.3" width="4.8" height="3.7" stroke-width="0.6" fill="#555"/>
<rect x="349.2" y="489" width="7.4" height="59.3" stroke-width="0.8"/>
<line x1="350.4" y1="489" x2="350.4" y2="548.3" stroke-width="0.4"/>
<line x1="355.4" y1="489" x2="355.4" y2="548.3" stroke-width="0.4"/>
<rect x="347.3" y="486.5" width="1.9" height="7.5" stroke-width="0.5" fill="#555"/>
<rect x="321" y="505.3" width="28.2" height="6.6" stroke-width="1"/>
<rect x="318.8" y="504.5" width="2.2" height="7.8" stroke-width="0.6"/>
<line x1="321" y1="506.5" x2="349.2" y2="506.5" stroke-width="0.4"/>
<line x1="321" y1="510.3" x2="349.2" y2="510.3" stroke-width="0.4"/>
<rect x="356.6" y="505.8" width="2" height="5" stroke-width="0.5"/>
<line x1="346.5" y1="505.3" x2="346.5" y2="511.5" stroke-width="0.4"/>
<rect x="321" y="524" width="28.2" height="6.6" stroke-width="1"/>
<rect x="318.8" y="523.2" width="2.2" height="7.8" stroke-width="0.6"/>
<line x1="321" y1="525.2" x2="349.2" y2="525.2" stroke-width="0.4"/>
<line x1="321" y1="529" x2="349.2" y2="529" stroke-width="0.4"/>
<rect x="356.6" y="524.5" width="2" height="5" stroke-width="0.5"/>
<line x1="346.5" y1="524" x2="346.5" y2="530.2" stroke-width="0.4"/>
<rect x="321" y="542.7" width="28.2" height="6.6" stroke-width="1"/>
<rect x="318.8" y="541.9" width="2.2" height="7.8" stroke-width="0.6"/>
<line x1="321" y1="543.9" x2="349.2" y2="543.9" stroke-width="0.4"/>
<line x1="321" y1="547.7" x2="349.2" y2="547.7" stroke-width="0.4"/>
<rect x="356.6" y="543.2" width="2" height="5" stroke-width="0.5"/>
<line x1="346.5" y1="542.7" x2="346.5" y2="548.9" stroke-width="0.4"/>
<line x1="349.2" y1="545" x2="356.6" y2="545" stroke-width="0.5"/>
<rect x="415.2" y="393.7" width="29.2" height="49.5" stroke-width="0.9"/>
<rect x="416" y="386" width="28" height="7.7" stroke-width="0.8"/>
<line x1="415.2" y1="416.9" x2="444.4" y2="416.9" stroke-width="0.7"/>
<line x1="415.2" y1="427.5" x2="444.4" y2="427.5" stroke-width="0.7"/>
<line x1="416.3" y1="393.7" x2="416.3" y2="443.2" stroke-width="0.4"/>
<line x1="443.3" y1="404.4" x2="443.3" y2="443.2" stroke-width="0.4"/>
<path d="M427.8,396.2 H453.1 V404.4 H427.8 A4.1,4.1 0 0 1 427.8,396.2 Z" stroke-width="0.8"/>
<path d="M427.8,397.6 A2.7,2.7 0 0 0 427.8,403" stroke-width="0.5"/>
<rect x="447.5" y="394.4" width="6.1" height="10" stroke-width="0.6"/>
<circle cx="425.6" cy="419.7" r="2.4" stroke-width="0.7"/>
<line x1="433.1" y1="419.2" x2="442.2" y2="419.2" stroke-width="0.6"/>
<line x1="433.1" y1="420.4" x2="442.2" y2="420.4" stroke-width="0.6"/>
<rect x="442.2" y="417.5" width="4.7" height="5.6" stroke-width="0.6"/>
<circle cx="450.6" cy="419.7" r="2.6" stroke-width="0.7"/>
<circle cx="450.6" cy="419.7" r="1.2" stroke-width="0.5" fill="#444"/>
<line x1="446.9" y1="419" x2="448" y2="419" stroke-width="0.5"/>
<line x1="446.9" y1="420.6" x2="448" y2="420.6" stroke-width="0.5"/>
<circle cx="424" cy="429.8" r="0.5" fill="#333"/>
<circle cx="436" cy="429.8" r="0.5" fill="#333"/>
<line x1="413.6" y1="396" x2="415.2" y2="396" stroke-width="0.9"/>
<line x1="413.6" y1="399" x2="415.2" y2="399" stroke-width="0.9"/>
<line x1="413.6" y1="402" x2="415.2" y2="402" stroke-width="0.9"/>
<line x1="413.6" y1="406" x2="415.2" y2="406" stroke-width="0.9"/>
<line x1="413.6" y1="409" x2="415.2" y2="409" stroke-width="0.9"/>
<rect x="453.6" y="397.5" width="19.5" height="5.6" stroke-width="0.7"/>
<line x1="455" y1="396.6" x2="455" y2="404" stroke-width="0.7"/>
<line x1="459.8" y1="396.6" x2="459.8" y2="404" stroke-width="0.7"/>
<line x1="461.3" y1="396.6" x2="461.3" y2="404" stroke-width="0.7"/>
<line x1="464.5" y1="396.6" x2="464.5" y2="404" stroke-width="0.7"/>
<line x1="466" y1="396.6" x2="466" y2="404" stroke-width="0.7"/>
<line x1="469.5" y1="396.6" x2="469.5" y2="404" stroke-width="0.7"/>
<line x1="471.2" y1="396.6" x2="471.2" y2="404" stroke-width="0.7"/>
<line x1="461.3" y1="398.6" x2="464.5" y2="398.6" stroke-width="0.5"/>
<line x1="461.3" y1="402" x2="464.5" y2="402" stroke-width="0.5"/>
<polygon points="473.1,396.2 477.5,393.9 488.1,393.9 488.1,406.3 477.5,406.3 473.1,404.4" stroke-width="0.8"/>
<line x1="477.5" y1="393.9" x2="477.5" y2="406.3" stroke-width="0.5"/>
<line x1="478.5" y1="404.8" x2="488.1" y2="404.8" stroke-width="0.4"/>
<line x1="478.5" y1="395.3" x2="488.1" y2="395.3" stroke-width="0.4"/>
<rect x="488.1" y="390" width="14.9" height="21.2" stroke-width="0.8"/>
<line x1="489.6" y1="390" x2="489.6" y2="411.2" stroke-width="1.4"/>
<rect x="495.5" y="391" width="3" height="5.3" stroke-width="0.5"/>
<circle cx="497" cy="393.6" r="1" stroke-width="0.5"/>
<line x1="491.5" y1="391" x2="491.5" y2="397" stroke-width="0.9"/>
<rect x="503" y="386" width="172.8" height="26.8" stroke-width="0.9"/>
<line x1="503" y1="405.5" x2="675.8" y2="405.5" stroke-width="0.7"/>
<line x1="503" y1="394.3" x2="675.8" y2="394.3" stroke-width="0.7"/>
<line x1="503" y1="386" x2="503" y2="412.8" stroke-width="1.3"/>
<line x1="531.6" y1="386" x2="531.6" y2="412.8" stroke-width="1.3"/>
<line x1="560.3" y1="386" x2="560.3" y2="412.8" stroke-width="1.3"/>
<line x1="589" y1="386" x2="589" y2="412.8" stroke-width="1.3"/>
<line x1="617" y1="386" x2="617" y2="412.8" stroke-width="1.3"/>
<line x1="645" y1="386" x2="645" y2="412.8" stroke-width="1.3"/>
<line x1="503" y1="386" x2="675.8" y2="386" stroke-width="1.3"/>
<line x1="503" y1="412.8" x2="675.8" y2="412.8" stroke-width="1.3"/>
<polyline points="514,390.2 515,388.6 521,388.6 522,390.2" stroke-width="0.5"/>
<line x1="508" y1="389.3" x2="512" y2="389.3" stroke-width="0.5"/>
<line x1="524" y1="389.3" x2="528" y2="389.3" stroke-width="0.5"/>
<polyline points="542.6,390.2 543.6,388.6 549.6,388.6 550.6,390.2" stroke-width="0.5"/>
<line x1="536.6" y1="389.3" x2="540.6" y2="389.3" stroke-width="0.5"/>
<line x1="552.6" y1="389.3" x2="556.6" y2="389.3" stroke-width="0.5"/>
<polyline points="571.3,390.2 572.3,388.6 578.3,388.6 579.3,390.2" stroke-width="0.5"/>
<line x1="565.3" y1="389.3" x2="569.3" y2="389.3" stroke-width="0.5"/>
<line x1="581.3" y1="389.3" x2="585.3" y2="389.3" stroke-width="0.5"/>
<rect x="507" y="390.2" width="77.5" height="3.4" stroke-width="0.6"/>
<line x1="529" y1="390.2" x2="529" y2="393.6" stroke-width="0.5"/>
<line x1="534.5" y1="390.2" x2="534.5" y2="393.6" stroke-width="0.5"/>
<line x1="557.5" y1="390.2" x2="557.5" y2="393.6" stroke-width="0.5"/>
<line x1="563" y1="390.2" x2="563" y2="393.6" stroke-width="0.5"/>
<rect x="592.5" y="405.5" width="77.5" height="4" stroke-width="0.5"/>
<polyline points="599.4,409.5 600.4,411 608.4,411 609.4,409.5" stroke-width="0.5"/>
<polyline points="627.5,409.5 628.5,411 636.5,411 637.5,409.5" stroke-width="0.5"/>
<polyline points="656,409.5 657,411 665,411 666,409.5" stroke-width="0.5"/>
<rect x="607.5" y="390.3" width="38.5" height="2.9" stroke-width="0.6"/>
<line x1="589.4" y1="411.5" x2="675.8" y2="411.5" stroke-width="0.4"/>
<polyline points="505.3,412.8 506.7,416.8 511.9,416.8 513.3,412.8" stroke-width="0.9"/>
<path d="M506.7,416.8 Q509.3,422.3 511.9,416.8" stroke-width="0.9"/>
<line x1="507.1" y1="415" x2="511.5" y2="415" stroke-width="1.1"/>
<polyline points="520,412.8 521.4,416.8 526.6,416.8 528,412.8" stroke-width="0.9"/>
<path d="M521.4,416.8 Q524,422.3 526.6,416.8" stroke-width="0.9"/>
<line x1="521.8" y1="415" x2="526.2" y2="415" stroke-width="1.1"/>
<polyline points="534.7,412.8 536.1,416.8 541.3,416.8 542.7,412.8" stroke-width="0.9"/>
<path d="M536.1,416.8 Q538.7,422.3 541.3,416.8" stroke-width="0.9"/>
<line x1="536.5" y1="415" x2="540.9" y2="415" stroke-width="1.1"/>
<polyline points="549.3,412.8 550.7,416.8 555.9,416.8 557.3,412.8" stroke-width="0.9"/>
<path d="M550.7,416.8 Q553.3,422.3 555.9,416.8" stroke-width="0.9"/>
<line x1="551.1" y1="415" x2="555.5" y2="415" stroke-width="1.1"/>
<polyline points="563.2,412.8 564.6,416.8 569.8,416.8 571.2,412.8" stroke-width="0.9"/>
<path d="M564.6,416.8 Q567.2,422.3 569.8,416.8" stroke-width="0.9"/>
<line x1="565" y1="415" x2="569.4" y2="415" stroke-width="1.1"/>
<polyline points="577,412.8 578.4,416.8 583.6,416.8 585,412.8" stroke-width="0.9"/>
<path d="M578.4,416.8 Q581,422.3 583.6,416.8" stroke-width="0.9"/>
<line x1="578.8" y1="415" x2="583.2" y2="415" stroke-width="1.1"/>
<polyline points="591.5,386 592.9,382 598.1,382 599.5,386" stroke-width="0.9"/>
<path d="M592.9,382 Q595.5,376.5 598.1,382" stroke-width="0.9"/>
<line x1="593.3" y1="383.8" x2="597.7" y2="383.8" stroke-width="1.1"/>
<polyline points="606,386 607.4,382 612.6,382 614,386" stroke-width="0.9"/>
<path d="M607.4,382 Q610,376.5 612.6,382" stroke-width="0.9"/>
<line x1="607.8" y1="383.8" x2="612.2" y2="383.8" stroke-width="1.1"/>
<polyline points="620,386 621.4,382 626.6,382 628,386" stroke-width="0.9"/>
<path d="M621.4,382 Q624,376.5 626.6,382" stroke-width="0.9"/>
<line x1="621.8" y1="383.8" x2="626.2" y2="383.8" stroke-width="1.1"/>
<polyline points="634,386 635.4,382 640.6,382 642,386" stroke-width="0.9"/>
<path d="M635.4,382 Q638,376.5 640.6,382" stroke-width="0.9"/>
<line x1="635.8" y1="383.8" x2="640.2" y2="383.8" stroke-width="1.1"/>
<polyline points="648.5,386 649.9,382 655.1,382 656.5,386" stroke-width="0.9"/>
<path d="M649.9,382 Q652.5,376.5 655.1,382" stroke-width="0.9"/>
<line x1="650.3" y1="383.8" x2="654.7" y2="383.8" stroke-width="1.1"/>
<polyline points="663,386 664.4,382 669.6,382 671,386" stroke-width="0.9"/>
<path d="M664.4,382 Q667,376.5 669.6,382" stroke-width="0.9"/>
<line x1="664.8" y1="383.8" x2="669.2" y2="383.8" stroke-width="1.1"/>
<line x1="506" y1="385" x2="506" y2="386" stroke-width="1"/>
<line x1="528" y1="385" x2="528" y2="386" stroke-width="1"/>
<line x1="536" y1="385" x2="536" y2="386" stroke-width="1"/>
<line x1="556" y1="385" x2="556" y2="386" stroke-width="1"/>
<line x1="585" y1="385" x2="585" y2="386" stroke-width="1"/>
<line x1="592" y1="412.8" x2="592" y2="414" stroke-width="1"/>
<line x1="600" y1="412.8" x2="600" y2="414" stroke-width="1"/>
<line x1="620" y1="412.8" x2="620" y2="414" stroke-width="1"/>
<line x1="648" y1="412.8" x2="648" y2="414" stroke-width="1"/>
<line x1="660" y1="412.8" x2="660" y2="414" stroke-width="1"/>
<polyline points="614,414.5 616,412.8 618,414.5" stroke-width="0.6"/>
<polyline points="642.5,414.5 644.5,412.8 646.5,414.5" stroke-width="0.6"/>
<line x1="645.61" y1="391.31" x2="660.11" y2="407.31" stroke-width="0.7"/>
<line x1="647.39" y1="389.69" x2="661.89" y2="405.69" stroke-width="0.7"/>
<rect x="675.5" y="381.2" width="30.1" height="37.5" stroke-width="1.1"/>
<line x1="675.5" y1="383" x2="705.6" y2="383" stroke-width="0.4"/>
<rect x="678" y="388" width="27" height="23.2" stroke-width="0.6"/>
<line x1="678" y1="389" x2="705" y2="389" stroke-width="1.8"/>
<line x1="678" y1="410" x2="705" y2="410" stroke-width="1.8"/>
<polygon points="679.5,390.5 683,393 683,406 679.5,408.5" stroke-width="0.6"/>
<line x1="683" y1="396" x2="691" y2="396" stroke-width="0.5"/>
<line x1="683" y1="403" x2="691" y2="403" stroke-width="0.5"/>
<rect x="681" y="398.5" width="7" height="2" stroke-width="0.5"/>
<rect x="686.2" y="393" width="18.8" height="14.5" stroke-width="0.7" fill="#333"/>
<circle cx="698" cy="400.2" r="4.3" stroke-width="0.9" fill="#888"/>
<circle cx="698" cy="400.2" r="2.2" stroke-width="0.7" fill="#ddd"/>
<rect x="688" y="395" width="2" height="4" stroke-width="0.4" fill="#ccc"/>
<rect x="688" y="401.5" width="2" height="4" stroke-width="0.4" fill="#ccc"/>
<rect x="692" y="394.5" width="2.5" height="2.5" stroke-width="0.4" fill="#ccc"/>
<line x1="679" y1="418.7" x2="679" y2="420.5" stroke-width="0.8"/>
<line x1="688" y1="418.7" x2="688" y2="420.5" stroke-width="0.8"/>
<line x1="698" y1="418.7" x2="698" y2="420.5" stroke-width="0.8"/>
<line x1="677" y1="420.5" x2="690" y2="420.5" stroke-width="0.6"/>
<line x1="705.6" y1="384.5" x2="706.8" y2="384.5" stroke-width="0.8"/>
<line x1="705.6" y1="416" x2="706.8" y2="416" stroke-width="0.8"/>
<rect x="696.9" y="377.5" width="3.7" height="15.5" stroke-width="0.7" fill="#fff"/>
<path d="M696.9,377.5 H690 V373 H698 Q700.6,373.2 700.6,376 V377.5" stroke-width="0.7"/>
<polygon points="682,371.8 685.5,369.6 689,371 690,373.5 690,377.5 685,377.5" stroke-width="0.6" fill="#222"/>
<line x1="686.5" y1="378.8" x2="688.5" y2="379.5" stroke-width="0.6"/>
<rect x="695" y="407.5" width="2.7" height="17.5" stroke-width="0.7" fill="#fff"/>
<line x1="695" y1="412" x2="697.7" y2="412" stroke-width="0.5"/>
<line x1="695" y1="414.5" x2="697.7" y2="414.5" stroke-width="0.5"/>
<line x1="695" y1="417" x2="697.7" y2="417" stroke-width="0.5"/>
<line x1="695" y1="419.5" x2="697.7" y2="419.5" stroke-width="0.5"/>
<path d="M695,425 V427.5 H707.5 M697.7,425 H707.5" stroke-width="0.7"/>
<line x1="670.8" y1="412.8" x2="670.8" y2="444" stroke-width="0.7"/>
<line x1="674.2" y1="412.8" x2="674.2" y2="444" stroke-width="0.7"/>
<line x1="670.3" y1="425" x2="674.7" y2="425" stroke-width="0.5"/>
<line x1="670.3" y1="427" x2="674.7" y2="427" stroke-width="0.5"/>
<line x1="670.3" y1="436" x2="674.7" y2="436" stroke-width="0.5"/>
<line x1="670.3" y1="438" x2="674.7" y2="438" stroke-width="0.5"/>
<path d="M670.8,412.8 Q670.8,410 668,410" stroke-width="0.6"/>
<circle cx="670.3" cy="449.3" r="3.6" stroke-width="0.7"/>
<circle cx="670.3" cy="449.3" r="1.9" stroke-width="0.5"/>
<line x1="666.76" y1="449.87" x2="648.16" y2="456.07" stroke-width="0.7"/>
<line x1="667.64" y1="452.53" x2="649.04" y2="458.73" stroke-width="0.7"/>
<line x1="651.5" y1="455" x2="652.3" y2="457.8" stroke-width="0.5"/>
<line x1="664" y1="450.8" x2="664.9" y2="453.6" stroke-width="0.5"/>
<rect x="644.3" y="451.5" width="2.3" height="10.3" stroke-width="0.6"/>
<rect x="646.6" y="455" width="2.4" height="4" stroke-width="0.5"/>
<rect x="639" y="453.2" width="5.3" height="7" stroke-width="0.5" fill="#222"/>
<line x1="641.5" y1="451.5" x2="641.5" y2="462" stroke-width="0.5"/>
<rect x="707.5" y="423" width="44.5" height="7.5" stroke-width="0.8"/>
<line x1="707.5" y1="424" x2="751.3" y2="424" stroke-width="1.6"/>
<line x1="721" y1="429.3" x2="750" y2="429.3" stroke-width="2.2"/>
<line x1="707.5" y1="429.6" x2="719.5" y2="429.6" stroke-width="1.4"/>
<line x1="707.5" y1="426.8" x2="752" y2="426.8" stroke-width="0.5"/>
<line x1="716" y1="423" x2="716" y2="430.5" stroke-width="0.7"/>
<line x1="722" y1="423" x2="722" y2="430.5" stroke-width="0.7"/>
<line x1="727.5" y1="423" x2="727.5" y2="430.5" stroke-width="0.7"/>
<line x1="735" y1="423" x2="735" y2="430.5" stroke-width="0.7"/>
<line x1="745" y1="423" x2="745" y2="430.5" stroke-width="0.7"/>
<rect x="727" y="416.7" width="24.3" height="17.6" stroke-width="0.6"/>
<polyline points="732.3,417 733.3,415.7 742,415.7 743,417" stroke-width="0.5"/>
<line x1="733.8" y1="415.7" x2="733.8" y2="424.3" stroke-width="0.9"/>
<line x1="735.6" y1="415.7" x2="735.6" y2="424.3" stroke-width="0.9"/>
<line x1="737.4" y1="415.7" x2="737.4" y2="424.3" stroke-width="0.9"/>
<line x1="739.2" y1="415.7" x2="739.2" y2="424.3" stroke-width="0.9"/>
<line x1="741" y1="415.7" x2="741" y2="424.3" stroke-width="0.9"/>
<line x1="732.3" y1="419.5" x2="743" y2="419.5" stroke-width="0.5"/>
<line x1="732.3" y1="421.5" x2="743" y2="421.5" stroke-width="0.5"/>
<line x1="751.3" y1="423.3" x2="787" y2="423.3" stroke-width="0.6"/>
<line x1="751.3" y1="432.5" x2="787" y2="432.5" stroke-width="0.6"/>
<line x1="751.3" y1="423.3" x2="751.3" y2="432.5" stroke-width="0.6"/>
<circle cx="752.2" cy="429.3" r="1.3" stroke-width="0.5" fill="#222"/>
<rect x="760" y="412.3" width="27" height="10.1" stroke-width="0.8"/>
<line x1="760" y1="413.3" x2="787" y2="413.3" stroke-width="0.4"/>
<rect x="760" y="433.4" width="27" height="6.9" stroke-width="0.8"/>
<line x1="727.5" y1="417" x2="760" y2="417" stroke-width="0.4"/>
<line x1="760" y1="422.4" x2="760" y2="433.4" stroke-width="0.6"/>
<line x1="771.5" y1="423.3" x2="771.5" y2="432.5" stroke-width="0.8"/>
<line x1="767" y1="424.5" x2="767" y2="427" stroke-width="0.8"/>
<line x1="762" y1="425.2" x2="776" y2="425.2" stroke-width="0.5"/>
<line x1="762" y1="430.5" x2="776" y2="430.5" stroke-width="0.5"/>
<path d="M771.5,423.8 Q775,423.3 777,425 L780,428.8 Q782,430 787,430" stroke-width="1.6"/>
<polygon points="778,423.3 787,423.3 787,427.2 781,427.2" stroke-width="0.5" fill="#333"/>
<rect x="783" y="419.5" width="4" height="3.8" stroke-width="0.5"/>
<rect x="783" y="432.5" width="4" height="2.5" stroke-width="0.5"/>
<line x1="783.5" y1="417.5" x2="783.5" y2="419.5" stroke-width="0.6"/>
<line x1="785.5" y1="417.5" x2="785.5" y2="419.5" stroke-width="0.6"/>
<line x1="783.5" y1="438" x2="783.5" y2="440.3" stroke-width="0.6"/>
<line x1="785.5" y1="438" x2="785.5" y2="440.3" stroke-width="0.6"/>
<line x1="760" y1="453.1" x2="787" y2="453.1" stroke-width="0.8"/>
<line x1="763.5" y1="440.7" x2="763.5" y2="453.1" stroke-width="0.9"/>
<line x1="766" y1="440.7" x2="766" y2="453.1" stroke-width="0.9"/>
<line x1="768.5" y1="440.7" x2="768.5" y2="453.1" stroke-width="0.9"/>
<line x1="771" y1="440.7" x2="771" y2="453.1" stroke-width="0.9"/>
<line x1="773.5" y1="440.7" x2="773.5" y2="453.1" stroke-width="0.9"/>
<line x1="776" y1="440.7" x2="776" y2="453.1" stroke-width="0.9"/>
<line x1="778.5" y1="440.7" x2="778.5" y2="453.1" stroke-width="0.9"/>
<line x1="781" y1="440.7" x2="781" y2="453.1" stroke-width="0.9"/>
<line x1="783.5" y1="440.7" x2="783.5" y2="453.1" stroke-width="0.9"/>
<line x1="786" y1="440.7" x2="786" y2="453.1" stroke-width="0.9"/>
<rect x="842.5" y="410" width="72.5" height="71.2" stroke-width="0.6"/>
<line x1="913.8" y1="410" x2="913.8" y2="481.2" stroke-width="0.5"/>
<rect x="787.5" y="410" width="55" height="71.2" stroke-width="0.6" fill="#fff"/>
<path d="M842.5,410.3 H790 Q787.8,410.4 787.8,412.5 V477.5 L790.5,480.9 H842.5" stroke-width="1.5"/>
<line x1="789.3" y1="412" x2="789.3" y2="478" stroke-width="0.4"/>
<rect x="812" y="417" width="19.2" height="19.2" stroke-width="0.7"/>
<rect x="813.7" y="418.7" width="15.8" height="15.8" stroke-width="0.5"/>
<rect x="818" y="395" width="7" height="15" stroke-width="0.8" fill="#fff" rx="1.2"/>
<line x1="819.5" y1="396" x2="819.5" y2="410" stroke-width="0.4"/>
<line x1="823.5" y1="396" x2="823.5" y2="410" stroke-width="0.4"/>
<polygon points="818.3,410 817.5,427 823,428 824.7,410" stroke-width="0.7" fill="#fff"/>
<line x1="820" y1="410" x2="819.3" y2="427" stroke-width="0.4"/>
<path d="M815.5,426 Q814.5,427.5 815.5,429" stroke-width="0.5"/>
<line x1="840" y1="466.8" x2="840" y2="470.5" stroke-width="0.6"/>
<line x1="839" y1="466.8" x2="841" y2="466.8" stroke-width="0.5"/>
<line x1="839" y1="470.5" x2="841" y2="470.5" stroke-width="0.5"/>
<rect x="873" y="455" width="10" height="16.2" stroke-width="0.6" fill="#fff"/>
<line x1="875" y1="455" x2="875" y2="471.2" stroke-width="0.4"/>
<line x1="881" y1="455" x2="881" y2="471.2" stroke-width="0.4"/>
<rect x="876.2" y="472.5" width="4" height="3" stroke-width="0.6" fill="#fff"/>
<rect x="875.2" y="475.5" width="6" height="17.2" stroke-width="1.1" fill="#fff"/>
<line x1="876.8" y1="475.5" x2="876.8" y2="492.7" stroke-width="0.8"/>
<line x1="879.6" y1="475.5" x2="879.6" y2="492.7" stroke-width="0.8"/>
<line x1="875.2" y1="484.5" x2="881.2" y2="484.5" stroke-width="0.6"/>
<rect x="867" y="494.2" width="22.5" height="25.5" stroke-width="0.9"/>
<rect x="868.8" y="492.3" width="1.5" height="1.9" stroke-width="0.4" fill="#333"/>
<rect x="871.7" y="492.3" width="1.5" height="1.9" stroke-width="0.4" fill="#333"/>
<rect x="874.6" y="492.3" width="1.5" height="1.9" stroke-width="0.4" fill="#333"/>
<rect x="877.5" y="492.3" width="1.5" height="1.9" stroke-width="0.4" fill="#333"/>
<rect x="880.4" y="492.3" width="1.5" height="1.9" stroke-width="0.4" fill="#333"/>
<rect x="883.3" y="492.3" width="1.5" height="1.9" stroke-width="0.4" fill="#333"/>
<rect x="886.2" y="492.3" width="1.5" height="1.9" stroke-width="0.4" fill="#333"/>
<line x1="867.5" y1="492.3" x2="889" y2="492.3" stroke-width="0.6"/>
<circle cx="878.2" cy="501" r="3.6" stroke-width="0.5" fill="#111"/>
<rect x="868.5" y="507" width="19.5" height="11.2" stroke-width="0.6" fill="#3a3a3a"/>
<line x1="871.1" y1="507" x2="871.1" y2="517.5" stroke-width="0.4" stroke="#bbb"/>
<line x1="873.5" y1="507" x2="873.5" y2="517.5" stroke-width="0.4" stroke="#bbb"/>
<line x1="875.9" y1="507" x2="875.9" y2="517.5" stroke-width="0.4" stroke="#bbb"/>
<line x1="878.3" y1="507" x2="878.3" y2="517.5" stroke-width="0.4" stroke="#bbb"/>
<line x1="880.7" y1="507" x2="880.7" y2="517.5" stroke-width="0.4" stroke="#bbb"/>
<line x1="883.1" y1="507" x2="883.1" y2="517.5" stroke-width="0.4" stroke="#bbb"/>
<line x1="885.5" y1="507" x2="885.5" y2="517.5" stroke-width="0.4" stroke="#bbb"/>
<line x1="868.7" y1="509.6" x2="888" y2="509.6" stroke-width="0.4" stroke="#bbb"/>
<line x1="868.7" y1="512.2" x2="888" y2="512.2" stroke-width="0.4" stroke="#bbb"/>
<line x1="868.7" y1="514.8" x2="888" y2="514.8" stroke-width="0.4" stroke="#bbb"/>
<ellipse cx="878.2" cy="530.3" rx="4.2" ry="2.3" stroke-width="1"/>
<circle cx="878.2" cy="530.3" r="1.6" stroke-width="0.5" fill="#222"/>
<rect x="788.7" y="482.5" width="53.8" height="12.5" stroke-width="0.6"/>
<line x1="791.4" y1="482.5" x2="791.4" y2="495" stroke-width="0.6"/>
<line x1="794.1" y1="482.5" x2="794.1" y2="495" stroke-width="0.6"/>
<line x1="796.8" y1="482.5" x2="796.8" y2="495" stroke-width="0.6"/>
<line x1="799.5" y1="482.5" x2="799.5" y2="495" stroke-width="0.6"/>
<line x1="802.2" y1="482.5" x2="802.2" y2="495" stroke-width="0.6"/>
<line x1="804.9" y1="482.5" x2="804.9" y2="495" stroke-width="0.6"/>
<line x1="807.6" y1="482.5" x2="807.6" y2="495" stroke-width="0.6"/>
<line x1="810.3" y1="482.5" x2="810.3" y2="495" stroke-width="0.6"/>
<line x1="813" y1="482.5" x2="813" y2="495" stroke-width="0.6"/>
<line x1="815.7" y1="482.5" x2="815.7" y2="495" stroke-width="0.6"/>
<line x1="818.4" y1="482.5" x2="818.4" y2="495" stroke-width="0.6"/>
<line x1="821.1" y1="482.5" x2="821.1" y2="495" stroke-width="0.6"/>
<line x1="823.8" y1="482.5" x2="823.8" y2="495" stroke-width="0.6"/>
<line x1="826.5" y1="482.5" x2="826.5" y2="495" stroke-width="0.6"/>
<line x1="829.2" y1="482.5" x2="829.2" y2="495" stroke-width="0.6"/>
<line x1="831.9" y1="482.5" x2="831.9" y2="495" stroke-width="0.6"/>
<line x1="834.6" y1="482.5" x2="834.6" y2="495" stroke-width="0.6"/>
<line x1="837.3" y1="482.5" x2="837.3" y2="495" stroke-width="0.6"/>
<line x1="840" y1="482.5" x2="840" y2="495" stroke-width="0.6"/>
<rect x="842.5" y="482.5" width="12.5" height="12.5" stroke-width="0.5"/>
<rect x="786.2" y="496.2" width="56.3" height="13.8" stroke-width="0.6"/>
<line x1="788.9" y1="496.2" x2="788.9" y2="510" stroke-width="0.6"/>
<line x1="791.6" y1="496.2" x2="791.6" y2="510" stroke-width="0.6"/>
<line x1="794.3" y1="496.2" x2="794.3" y2="510" stroke-width="0.6"/>
<line x1="797" y1="496.2" x2="797" y2="510" stroke-width="0.6"/>
<line x1="799.7" y1="496.2" x2="799.7" y2="510" stroke-width="0.6"/>
<line x1="802.4" y1="496.2" x2="802.4" y2="510" stroke-width="0.6"/>
<line x1="805.1" y1="496.2" x2="805.1" y2="510" stroke-width="0.6"/>
<line x1="807.8" y1="496.2" x2="807.8" y2="510" stroke-width="0.6"/>
<line x1="810.5" y1="496.2" x2="810.5" y2="510" stroke-width="0.6"/>
<line x1="813.2" y1="496.2" x2="813.2" y2="510" stroke-width="0.6"/>
<line x1="815.9" y1="496.2" x2="815.9" y2="510" stroke-width="0.6"/>
<line x1="818.6" y1="496.2" x2="818.6" y2="510" stroke-width="0.6"/>
<line x1="821.3" y1="496.2" x2="821.3" y2="510" stroke-width="0.6"/>
<line x1="824" y1="496.2" x2="824" y2="510" stroke-width="0.6"/>
<line x1="826.7" y1="496.2" x2="826.7" y2="510" stroke-width="0.6"/>
<line x1="829.4" y1="496.2" x2="829.4" y2="510" stroke-width="0.6"/>
<line x1="832.1" y1="496.2" x2="832.1" y2="510" stroke-width="0.6"/>
<line x1="834.8" y1="496.2" x2="834.8" y2="510" stroke-width="0.6"/>
<line x1="837.5" y1="496.2" x2="837.5" y2="510" stroke-width="0.6"/>
<line x1="840.2" y1="496.2" x2="840.2" y2="510" stroke-width="0.6"/>
<rect x="842.5" y="496.2" width="12.5" height="13.8" stroke-width="0.5"/>
<line x1="784.5" y1="495.6" x2="855" y2="495.6" stroke-width="0.5"/>
</g>
<g class="lbl" stroke="#222" stroke-width="0.6" fill="none">
<text x="265.2" y="328.5" stroke="none">冷却器</text>
<line x1="265.3" y1="330.6" x2="299" y2="330.6" stroke="#777" stroke-width="0.8"/>
<line x1="299" y1="330.6" x2="348" y2="396"/>
<polygon points="348,396 343.04,385.97 339.76,388.43" fill="#000" stroke="none"/>
<text x="202.4" y="361.9" stroke="none">浆料罐</text>
<line x1="202.5" y1="364" x2="235" y2="364" stroke="#777" stroke-width="0.8"/>
<line x1="235" y1="364" x2="285.2" y2="392"/>
<polygon points="285.2,392 276.59,384.85 274.59,388.43" fill="#000" stroke="none"/>
<text x="202.4" y="401.3" stroke="none">称重罐</text>
<line x1="202.5" y1="403.4" x2="235.5" y2="403.4" stroke="#777" stroke-width="0.8"/>
<line x1="235.5" y1="403.4" x2="285.2" y2="432.5"/>
<polygon points="285.2,432.5 276.74,425.17 274.67,428.71" fill="#000" stroke="none"/>
<text x="202.4" y="434.4" stroke="none">浆料罐</text>
<line x1="202.5" y1="436.5" x2="235.5" y2="436.5" stroke="#777" stroke-width="0.8"/>
<line x1="235.5" y1="436.5" x2="285.2" y2="463.3"/>
<polygon points="285.2,463.3 276.49,456.27 274.54,459.88" fill="#000" stroke="none"/>
<text x="202.4" y="466.9" stroke="none">液体罐</text>
<line x1="202.5" y1="469" x2="235.5" y2="469" stroke="#777" stroke-width="0.8"/>
<line x1="235.5" y1="469" x2="285.2" y2="491.3"/>
<polygon points="285.2,491.3 276,484.93 274.32,488.67" fill="#000" stroke="none"/>
<text x="414.2" y="306.6" stroke="none">网带提升机</text>
<line x1="412.5" y1="308.7" x2="467.8" y2="308.7" stroke="#777" stroke-width="0.8"/>
<line x1="412.5" y1="308.7" x2="402" y2="403"/>
<polygon points="402,403 405.25,392.29 401.18,391.84" fill="#000" stroke="none"/>
<text x="451.4" y="326.9" stroke="none"><tspan font-size="9.8">Z</tspan>型提升机</text>
<line x1="450.5" y1="329" x2="500" y2="329" stroke="#777" stroke-width="0.8"/>
<line x1="450.5" y1="329" x2="431.9" y2="396"/>
<polygon points="431.9,396 436.82,385.95 432.87,384.85" fill="#000" stroke="none"/>
<text x="508.4" y="348.1" stroke="none">振动筛</text>
<line x1="507" y1="350.2" x2="540.5" y2="350.2" stroke="#777" stroke-width="0.8"/>
<line x1="507" y1="350.2" x2="483.2" y2="393.8"/>
<polygon points="483.2,393.8 490.27,385.13 486.67,383.16" fill="#000" stroke="none"/>
<text x="571.9" y="348.4" stroke="none">干燥箱</text>
<line x1="570.7" y1="350.5" x2="603.5" y2="350.5" stroke="#777" stroke-width="0.8"/>
<line x1="570.7" y1="350.5" x2="548.7" y2="385"/>
<polygon points="548.7,385 556.34,376.83 552.89,374.62" fill="#000" stroke="none"/>
<text x="698.4" y="348.9" stroke="none">沙克龙</text>
<line x1="697.5" y1="351" x2="731.5" y2="351" stroke="#777" stroke-width="0.8"/>
<line x1="697.5" y1="351" x2="686.8" y2="376.7"/>
<polygon points="686.8,376.7 692.92,367.33 689.14,365.76" fill="#000" stroke="none"/>
<text x="780.9" y="345.2" stroke="none">调制器</text>
<line x1="780" y1="347.3" x2="813.5" y2="347.3" stroke="#777" stroke-width="0.8"/>
<line x1="780" y1="347.3" x2="751.5" y2="423.3"/>
<polygon points="751.5,423.3 757.28,413.72 753.44,412.28" fill="#000" stroke="none"/>
<text x="847.4" y="349.1" stroke="none">斗式提升机</text>
<line x1="845.2" y1="351.2" x2="901" y2="351.2" stroke="#777" stroke-width="0.8"/>
<line x1="845.2" y1="351.2" x2="823.2" y2="396"/>
<polygon points="823.2,396 829.89,387.03 826.21,385.22" fill="#000" stroke="none"/>
<text x="908.6" y="374.3" stroke="none">自动配料系统</text>
<line x1="906" y1="376.4" x2="974" y2="376.4" stroke="#777" stroke-width="0.8"/>
<line x1="906" y1="376.4" x2="892" y2="408.8"/>
<polygon points="892,408.8 898.25,399.52 894.48,397.89" fill="#000" stroke="none"/>
<text x="943.4" y="551.9" stroke="none">投料坑</text>
<line x1="940.8" y1="554" x2="976" y2="554" stroke="#777" stroke-width="0.8"/>
<line x1="940.8" y1="554" x2="888.8" y2="503.2"/>
<polygon points="888.8,503.2 895.24,512.35 898.1,509.42" fill="#000" stroke="none"/>
<text x="666.2" y="522" stroke="none">挤出机</text>
<line x1="666.3" y1="524.1" x2="700.2" y2="524.1" stroke="#777" stroke-width="0.8"/>
<line x1="700.2" y1="524.1" x2="736.8" y2="429.2"/>
<text x="404.9" y="480.4" stroke="none"><tspan font-size="9.8">Z</tspan>型提升机</text>
<line x1="404.7" y1="482.5" x2="453" y2="482.5" stroke="#777" stroke-width="0.8"/>
<line x1="404.7" y1="482.5" x2="373" y2="414"/>
<polygon points="373,414 375.76,424.84 379.48,423.12" fill="#000" stroke="none"/>
<text x="487.7" y="479.2" stroke="none">冷却喷涂</text>
<line x1="486" y1="481.3" x2="530.5" y2="481.3" stroke="#777" stroke-width="0.8"/>
<line x1="486" y1="481.3" x2="444.7" y2="444.2"/>
<polygon points="444.7,444.2 451.51,453.08 454.25,450.03" fill="#000" stroke="none"/>
<text x="412.4" y="515.3" stroke="none">成品仓</text>
<line x1="411.3" y1="517.4" x2="445" y2="517.4" stroke="#777" stroke-width="0.8"/>
<line x1="411.3" y1="517.4" x2="364" y2="477.3"/>
<polygon points="364,477.3 371.06,485.98 373.72,482.85" fill="#000" stroke="none"/>
<text x="404.9" y="553.1" stroke="none"><tspan font-size="9.8">Z</tspan>型提升机</text>
<line x1="404.7" y1="555.2" x2="453" y2="555.2" stroke="#777" stroke-width="0.8"/>
<line x1="404.7" y1="555.2" x2="356.7" y2="515.5"/>
<polygon points="356.7,515.5 363.87,524.09 366.48,520.93" fill="#000" stroke="none"/>
<text x="407.4" y="588.9" stroke="none">自动称重</text>
<line x1="406" y1="591" x2="450" y2="591" stroke="#777" stroke-width="0.8"/>
<line x1="406" y1="591" x2="356.7" y2="548.8"/>
<polygon points="356.7,548.8 363.72,557.51 366.39,554.4" fill="#000" stroke="none"/>
<text x="224.9" y="531.4" stroke="none"><tspan font-size="9.8">Z</tspan>型提升机</text>
<line x1="225" y1="533.5" x2="274" y2="533.5" stroke="#777" stroke-width="0.8"/>
<line x1="274" y1="533.5" x2="349" y2="450"/>
<polygon points="349,450 340.12,456.81 343.17,459.55" fill="#000" stroke="none"/>
</g>
<g class="wm" fill="#5a2015" style="mix-blend-mode:lighten"><text transform="translate(323.1,409.6) scale(1.17,1.03)" x="0" y="0" stroke="#000000" stroke-width="2.5">C</text><text clip-path="url(#ycp)" transform="translate(598.5,407.5) scale(1.13,1)" x="0" y="0">Y</text></g>
<rect x="0" y="598.7" width="1200" height="1.3" fill="#f53d00"/>
</svg>
<div id="frame"></div>
</body></html>
